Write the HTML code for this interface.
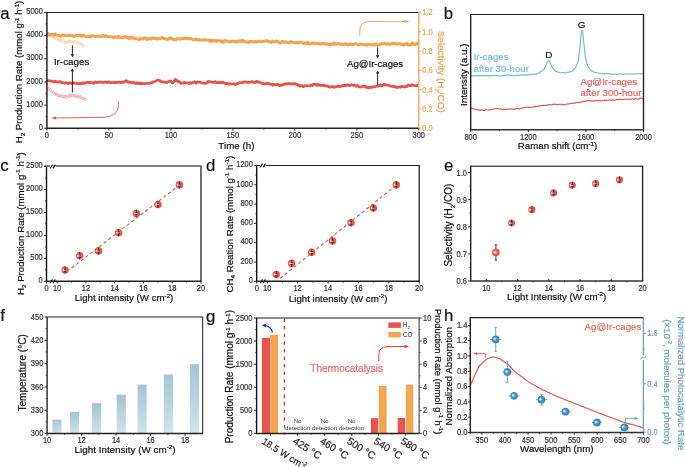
<!DOCTYPE html>
<html><head><meta charset="utf-8"><style>
html,body{margin:0;padding:0;background:#fff;width:685px;height:467px;overflow:hidden}
svg{display:block;will-change:transform}
svg text{font-family:"Liberation Sans", sans-serif;stroke-width:0.2px}
</style></head><body>
<svg width="685" height="467" viewBox="0 0 685 467">
<rect width="685" height="467" fill="#fff"/>
<defs>
<radialGradient id="gR" cx="0.5" cy="0.5" r="0.5" fx="0.32" fy="0.4">
<stop offset="0" stop-color="#f7a8a1"/><stop offset="0.5" stop-color="#ec6359"/><stop offset="0.85" stop-color="#e5534a"/><stop offset="1" stop-color="#ec7068"/>
</radialGradient>
<radialGradient id="gBl" cx="0.5" cy="0.5" r="0.5" fx="0.32" fy="0.4">
<stop offset="0" stop-color="#ffffff"/><stop offset="0.22" stop-color="#a9cfe3"/><stop offset="0.5" stop-color="#4f95bf"/><stop offset="0.85" stop-color="#3d84b0"/><stop offset="1" stop-color="#5b9cc2"/>
</radialGradient>
<linearGradient id="gB" x1="0" y1="0" x2="0" y2="1">
<stop offset="0" stop-color="#a3c4d4"/><stop offset="1" stop-color="#d0e3ea"/>
</linearGradient>
</defs>
<polyline points="47.00,33.91 47.50,33.96 48.00,33.67 48.50,33.75 49.00,34.17 49.50,34.58 50.00,34.96 50.50,34.82 51.00,34.88 51.50,34.74 52.00,34.33 52.50,34.49 53.00,34.62 53.50,35.22 54.00,34.63 54.50,34.12 55.00,33.82 55.50,34.17 56.00,34.74 56.50,35.00 57.00,35.30 57.50,35.11 58.00,35.25 58.50,35.27 59.00,35.31 59.50,35.71 60.00,35.80 60.50,36.28 61.00,35.70 61.50,35.39 62.00,35.01 62.50,35.15 63.00,35.51 63.50,35.66 64.00,35.59 64.50,35.20 65.00,35.02 65.50,35.45 66.00,35.49 66.50,35.69 67.00,35.51 67.50,35.35 68.00,35.31 68.50,35.54 69.00,35.42 69.50,35.33 70.00,34.99 70.50,35.30 71.00,35.51 71.50,35.53 72.00,35.38 72.50,35.48 73.00,35.67 73.50,36.28 74.00,36.44 74.50,36.38 75.00,36.18 75.50,35.51 76.00,35.59 76.50,35.43 77.00,35.65 77.50,35.20 78.00,35.13 78.50,35.13 79.00,35.78 79.50,35.53 80.00,35.32 80.50,35.07 81.00,35.96 81.50,36.48 82.00,35.96 82.50,34.99 83.00,34.95 83.50,35.26 84.00,35.63 84.50,35.80 85.00,36.27 85.50,36.61 86.00,36.44 86.50,36.29 87.00,36.67 87.50,36.78 88.00,36.82 88.50,36.57 89.00,36.04 89.50,36.25 90.00,36.37 90.50,36.88 91.00,36.06 91.50,35.66 92.00,35.73 92.50,35.77 93.00,35.87 93.50,35.91 94.00,36.03 94.50,36.47 95.00,36.35 95.50,36.63 96.00,36.30 96.50,36.32 97.00,36.38 97.50,36.58 98.00,36.24 98.50,36.10 99.00,36.07 99.50,36.24 100.00,36.11 100.50,36.08 101.00,36.44 101.50,36.54 102.00,35.95 102.50,35.54 103.00,35.61 103.50,35.87 104.00,36.25 104.50,36.03 105.00,36.41 105.50,35.79 106.00,35.90 106.50,35.79 107.00,36.44 107.50,36.90 108.00,36.88 108.50,36.69 109.00,36.56 109.50,36.67 110.00,36.64 110.50,36.72 111.00,36.77 111.50,36.86 112.00,37.03 112.50,37.08 113.00,37.64 113.50,37.58 114.00,37.38 114.50,36.83 115.00,36.80 115.50,37.15 116.00,37.17 116.50,37.29 117.00,37.53 117.50,36.99 118.00,36.63 118.50,36.24 119.00,37.00 119.50,37.36 120.00,37.20 120.50,37.28 121.00,37.31 121.50,37.30 122.00,37.76 122.50,37.79 123.00,37.80 123.50,37.18 124.00,37.05 124.50,37.19 125.00,36.55 125.50,36.54 126.00,36.86 126.50,37.30 127.00,37.46 127.50,37.50 128.00,38.07 128.50,38.51 129.00,37.90 129.50,37.65 130.00,37.25 130.50,37.89 131.00,38.30 131.50,37.77 132.00,37.94 132.50,37.36 133.00,38.26 133.50,37.67 134.00,38.13 134.50,38.31 135.00,38.71 135.50,38.73 136.00,38.66 136.50,38.76 137.00,38.71 137.50,38.92 138.00,39.17 138.50,39.15 139.00,39.47 139.50,38.95 140.00,39.28 140.50,38.55 141.00,38.90 141.50,38.87 142.00,39.01 142.50,39.17 143.00,38.63 143.50,38.23 144.00,38.24 144.50,38.41 145.00,38.56 145.50,38.00 146.00,38.51 146.50,38.92 147.00,39.61 147.50,39.02 148.00,38.79 148.50,38.10 149.00,38.49 149.50,38.84 150.00,38.87 150.50,39.02 151.00,38.83 151.50,38.97 152.00,38.05 152.50,38.11 153.00,38.09 153.50,38.40 154.00,38.11 154.50,38.19 155.00,38.68 155.50,38.34 156.00,38.53 156.50,38.55 157.00,39.18 157.50,38.86 158.00,38.32 158.50,38.23 159.00,38.32 159.50,38.55 160.00,38.67 160.50,38.59 161.00,38.00 161.50,37.56 162.00,37.18 162.50,37.97 163.00,38.16 163.50,38.49 164.00,38.29 164.50,38.44 165.00,38.63 165.50,39.01 166.00,38.84 166.50,39.13 167.00,39.22 167.50,39.69 168.00,39.31 168.50,39.20 169.00,38.38 169.50,38.33 170.00,37.67 170.50,38.46 171.00,38.47 171.50,39.01 172.00,38.74 172.50,39.09 173.00,39.00 173.50,39.15 174.00,39.66 174.50,39.87 175.00,39.99 175.50,39.73 176.00,39.61 176.50,39.11 177.00,38.66 177.50,38.91 178.00,38.76 178.50,38.69 179.00,38.61 179.50,39.16 180.00,39.25 180.50,39.21 181.00,39.06 181.50,38.78 182.00,38.20 182.50,38.00 183.00,38.54 183.50,38.80 184.00,38.74 184.50,38.33 185.00,38.10 185.50,38.30 186.00,38.21 186.50,38.70 187.00,38.15 187.50,38.53 188.00,38.29 188.50,38.41 189.00,38.52 189.50,38.62 190.00,38.55 190.50,38.18 191.00,38.35 191.50,38.81 192.00,39.25 192.50,39.39 193.00,39.70 193.50,39.61 194.00,39.78 194.50,39.81 195.00,39.86 195.50,39.03 196.00,39.12 196.50,39.36 197.00,39.83 197.50,39.51 198.00,39.69 198.50,39.35 199.00,39.61 199.50,39.76 200.00,39.99 200.50,40.09 201.00,39.99 201.50,40.23 202.00,40.24 202.50,40.04 203.00,39.88 203.50,39.76 204.00,39.64 204.50,40.12 205.00,40.17 205.50,40.09 206.00,39.67 206.50,39.63 207.00,39.94 207.50,40.26 208.00,40.18 208.50,39.78 209.00,40.46 209.50,41.00 210.00,41.41 210.50,40.13 211.00,40.04 211.50,40.03 212.00,41.14 212.50,41.12 213.00,41.02 213.50,40.77 214.00,40.21 214.50,40.52 215.00,40.50 215.50,40.85 216.00,40.96 216.50,41.36 217.00,41.22 217.50,40.76 218.00,40.42 218.50,40.85 219.00,40.95 219.50,40.67 220.00,41.19 220.50,41.57 221.00,41.53 221.50,40.68 222.00,40.87 222.50,41.44 223.00,42.25 223.50,42.05 224.00,41.60 224.50,41.23 225.00,40.51 225.50,40.56 226.00,40.50 226.50,41.19 227.00,41.21 227.50,41.22 228.00,41.22 228.50,41.52 229.00,41.73 229.50,41.69 230.00,41.53 230.50,41.57 231.00,41.54 231.50,41.41 232.00,41.06 232.50,41.05 233.00,41.24 233.50,41.44 234.00,41.44 234.50,41.51 235.00,41.44 235.50,41.13 236.00,41.20 236.50,41.50 237.00,41.92 237.50,41.77 238.00,41.63 238.50,41.28 239.00,40.86 239.50,40.76 240.00,40.77 240.50,41.44 241.00,41.15 241.50,40.73 242.00,40.29 242.50,40.96 243.00,41.53 243.50,41.45 244.00,40.86 244.50,41.09 245.00,41.56 245.50,41.79 246.00,42.01 246.50,42.05 247.00,41.99 247.50,41.75 248.00,41.98 248.50,42.21 249.00,42.31 249.50,41.61 250.00,41.31 250.50,41.23 251.00,41.41 251.50,41.70 252.00,41.66 252.50,41.94 253.00,41.61 253.50,42.08 254.00,42.15 254.50,42.14 255.00,41.51 255.50,41.84 256.00,41.79 256.50,41.97 257.00,41.56 257.50,41.63 258.00,41.11 258.50,40.90 259.00,40.97 259.50,41.53 260.00,41.67 260.50,41.61 261.00,41.58 261.50,41.54 262.00,41.62 262.50,41.45 263.00,41.28 263.50,41.43 264.00,41.19 264.50,41.12 265.00,40.98 265.50,40.91 266.00,40.99 266.50,40.51 267.00,40.74 267.50,41.02 268.00,41.69 268.50,41.88 269.00,41.71 269.50,41.24 270.00,41.74 270.50,41.96 271.00,42.62 271.50,41.97 272.00,41.83 272.50,41.13 273.00,41.57 273.50,41.88 274.00,41.89 274.50,41.72 275.00,41.67 275.50,41.72 276.00,41.30 276.50,40.90 277.00,41.20 277.50,41.33 278.00,41.62 278.50,41.86 279.00,42.39 279.50,42.58 280.00,42.91 280.50,43.06 281.00,42.58 281.50,42.10 282.00,41.56 282.50,41.64 283.00,41.77 283.50,42.05 284.00,42.46 284.50,42.11 285.00,41.82 285.50,41.71 286.00,42.07 286.50,42.33 287.00,42.34 287.50,42.22 288.00,42.49 288.50,42.61 289.00,42.80 289.50,42.48 290.00,42.37 290.50,41.72 291.00,41.66 291.50,41.72 292.00,42.04 292.50,42.35 293.00,42.39 293.50,42.44 294.00,42.34 294.50,42.23 295.00,42.71 295.50,42.94 296.00,43.02 296.50,42.70 297.00,42.53 297.50,42.53 298.00,42.94 298.50,43.07 299.00,42.92 299.50,42.41 300.00,42.25 300.50,42.26 301.00,42.34 301.50,42.41 302.00,42.49 302.50,42.81 303.00,42.98 303.50,43.01 304.00,43.58 304.50,43.38 305.00,43.78 305.50,43.23 306.00,43.60 306.50,42.74 307.00,42.53 307.50,42.32 308.00,43.07 308.50,43.85 309.00,43.88 309.50,44.05 310.00,43.67 310.50,43.83 311.00,43.65 311.50,43.43 312.00,43.32 312.50,42.93 313.00,43.28 313.50,42.90 314.00,43.24 314.50,43.48 315.00,43.69 315.50,43.64 316.00,43.41 316.50,43.48 317.00,43.28 317.50,43.06 318.00,43.21 318.50,43.62 319.00,43.40 319.50,43.72 320.00,44.00 320.50,44.23 321.00,43.89 321.50,43.40 322.00,43.78 322.50,43.57 323.00,43.88 323.50,43.44 324.00,43.48 324.50,43.52 325.00,44.01 325.50,44.21 326.00,43.89 326.50,43.80 327.00,43.82 327.50,44.10 328.00,44.31 328.50,44.64 329.00,44.47 329.50,44.69 330.00,44.44 330.50,44.78 331.00,44.06 331.50,44.05 332.00,43.43 332.50,44.05 333.00,44.41 333.50,44.55 334.00,43.74 334.50,43.00 335.00,43.61 335.50,43.88 336.00,44.28 336.50,43.92 337.00,44.02 337.50,43.77 338.00,43.86 338.50,43.54 339.00,43.81 339.50,43.89 340.00,44.38 340.50,44.35 341.00,44.05 341.50,43.99 342.00,43.93 342.50,44.56 343.00,44.72 343.50,44.82 344.00,44.33 344.50,43.97 345.00,43.77 345.50,43.80 346.00,44.05 346.50,44.41 347.00,44.64 347.50,45.10 348.00,44.79 348.50,44.65 349.00,44.83 349.50,44.54 350.00,44.40 350.50,43.75 351.00,44.25 351.50,44.48 352.00,44.38 352.50,44.43 353.00,44.35 353.50,44.60 354.00,44.03 354.50,43.80 355.00,43.61 355.50,43.82 356.00,43.78 356.50,43.94 357.00,44.03 357.50,44.45 358.00,44.48 358.50,44.72 359.00,44.69 359.50,44.48 360.00,44.05 360.50,43.93 361.00,44.09 361.50,44.33 362.00,44.34 362.50,44.43 363.00,44.36 363.50,44.57 364.00,44.87 364.50,44.97 365.00,44.86 365.50,44.38 366.00,44.92 366.50,44.99 367.00,45.27 367.50,44.73 368.00,44.67 368.50,44.46 369.00,44.21 369.50,44.59 370.00,44.84 370.50,44.87 371.00,44.71 371.50,44.48 372.00,45.05 372.50,44.97 373.00,44.65 373.50,44.50 374.00,44.81 374.50,45.06 375.00,44.87 375.50,44.10 376.00,43.88 376.50,44.16 377.00,44.86 377.50,45.21 378.00,45.13 378.50,45.21 379.00,44.91 379.50,44.62 380.00,44.13 380.50,44.34 381.00,44.20 381.50,43.71 382.00,43.59 382.50,43.84 383.00,43.75 383.50,43.56 384.00,43.31 384.50,43.69 385.00,43.65 385.50,43.78 386.00,43.59 386.50,43.90 387.00,44.28 387.50,44.29 388.00,44.26 388.50,43.74 389.00,43.86 389.50,43.85 390.00,44.43 390.50,44.34 391.00,44.14 391.50,43.83 392.00,43.57 392.50,43.60 393.00,43.40 393.50,43.88 394.00,43.61 394.50,43.30 395.00,43.23 395.50,43.60 396.00,43.97 396.50,44.20 397.00,44.08 397.50,44.08 398.00,43.99 398.50,43.68 399.00,43.68 399.50,43.57 400.00,44.19 400.50,44.33 401.00,44.43 401.50,44.07 402.00,44.20 402.50,44.55 403.00,44.56 403.50,45.09 404.00,44.53 404.50,44.72 405.00,44.19 405.50,44.59 406.00,44.27 406.50,43.69 407.00,43.57 407.50,44.07 408.00,44.74 408.50,45.24 409.00,45.08 409.50,44.98 410.00,44.54 410.50,44.57 411.00,44.91 411.50,44.36 412.00,44.16 412.50,42.87 413.00,43.38 413.50,43.37 414.00,44.45 414.50,44.77 415.00,44.85 415.50,44.55 416.00,43.87 416.50,43.66 417.00,43.55 417.50,43.82 418.00,44.03 418.50,44.20" fill="none" stroke="#f4a24c" stroke-width="2.9" stroke-linejoin="round" />
<polyline points="47.00,80.65 47.50,80.72 48.00,80.74 48.50,80.68 49.00,80.55 49.50,80.77 50.00,80.97 50.50,81.07 51.00,81.07 51.50,81.11 52.00,81.06 52.50,81.23 53.00,81.30 53.50,81.86 54.00,81.65 54.50,81.62 55.00,81.20 55.50,81.41 56.00,81.51 56.50,81.82 57.00,81.76 57.50,81.83 58.00,82.08 58.50,82.00 59.00,82.03 59.50,81.53 60.00,81.58 60.50,81.78 61.00,82.54 61.50,82.61 62.00,82.51 62.50,82.62 63.00,82.69 63.50,82.92 64.00,83.00 64.50,83.13 65.00,83.29 65.50,82.85 66.00,82.91 66.50,82.69 67.00,82.89 67.50,83.11 68.00,83.64 68.50,83.52 69.00,83.21 69.50,82.87 70.00,82.82 70.50,83.07 71.00,83.12 71.50,83.31 72.00,83.36 72.50,82.97 73.00,83.21 73.50,82.83 74.00,83.03 74.50,82.81 75.00,83.07 75.50,83.36 76.00,83.47 76.50,83.45 77.00,83.37 77.50,83.65 78.00,83.71 78.50,83.65 79.00,83.56 79.50,83.59 80.00,83.24 80.50,83.47 81.00,83.84 81.50,83.68 82.00,83.16 82.50,82.78 83.00,83.35 83.50,83.47 84.00,83.31 84.50,82.89 85.00,82.76 85.50,83.00 86.00,82.97 86.50,82.72 87.00,82.49 87.50,82.30 88.00,82.44 88.50,82.33 89.00,82.79 89.50,82.68 90.00,82.57 90.50,82.38 91.00,82.49 91.50,82.52 92.00,82.58 92.50,82.72 93.00,83.07 93.50,83.39 94.00,83.06 94.50,82.72 95.00,81.86 95.50,82.37 96.00,82.28 96.50,82.74 97.00,82.43 97.50,82.28 98.00,82.35 98.50,82.21 99.00,82.08 99.50,82.02 100.00,82.23 100.50,82.19 101.00,82.27 101.50,82.04 102.00,82.48 102.50,82.38 103.00,82.56 103.50,82.39 104.00,82.45 104.50,82.08 105.00,82.24 105.50,81.93 106.00,82.02 106.50,82.25 107.00,82.53 107.50,82.55 108.00,82.01 108.50,81.79 109.00,81.89 109.50,82.34 110.00,82.61 110.50,82.71 111.00,82.54 111.50,82.76 112.00,82.60 112.50,82.53 113.00,82.47 113.50,82.59 114.00,82.67 114.50,82.41 115.00,82.38 115.50,82.52 116.00,82.67 116.50,82.44 117.00,82.36 117.50,82.29 118.00,82.30 118.50,82.33 119.00,82.20 119.50,82.29 120.00,82.26 120.50,82.54 121.00,82.44 121.50,82.33 122.00,81.85 122.50,82.41 123.00,82.19 123.50,82.42 124.00,81.64 124.50,81.72 125.00,81.74 125.50,81.18 126.00,80.75 126.50,80.62 127.00,81.33 127.50,81.50 128.00,82.04 128.50,82.30 129.00,82.32 129.50,82.12 130.00,81.83 130.50,82.46 131.00,82.24 131.50,82.68 132.00,82.77 132.50,82.97 133.00,82.73 133.50,82.21 134.00,82.49 134.50,82.98 135.00,83.22 135.50,83.19 136.00,83.17 136.50,83.49 137.00,82.90 137.50,82.77 138.00,82.85 138.50,83.48 139.00,83.74 139.50,83.10 140.00,83.02 140.50,82.97 141.00,84.00 141.50,83.81 142.00,83.67 142.50,83.20 143.00,83.60 143.50,83.61 144.00,83.86 144.50,83.55 145.00,83.73 145.50,83.35 146.00,83.50 146.50,83.27 147.00,83.01 147.50,83.16 148.00,83.32 148.50,83.49 149.00,83.27 149.50,83.37 150.00,83.24 150.50,83.01 151.00,82.74 151.50,82.87 152.00,82.65 152.50,81.94 153.00,81.91 153.50,81.87 154.00,82.12 154.50,81.64 155.00,81.45 155.50,81.19 156.00,80.86 156.50,80.49 157.00,80.28 157.50,80.19 158.00,79.93 158.50,80.34 159.00,80.36 159.50,80.89 160.00,80.72 160.50,81.22 161.00,81.53 161.50,81.94 162.00,81.88 162.50,81.78 163.00,81.94 163.50,81.90 164.00,81.93 164.50,82.10 165.00,82.52 165.50,82.49 166.00,82.45 166.50,82.54 167.00,82.54 167.50,82.35 168.00,81.98 168.50,81.64 169.00,81.30 169.50,81.14 170.00,80.95 170.50,81.08 171.00,81.49 171.50,81.94 172.00,82.51 172.50,83.00 173.00,82.46 173.50,81.99 174.00,81.77 174.50,80.50 175.00,79.85 175.50,79.27 176.00,80.19 176.50,80.96 177.00,81.03 177.50,81.06 178.00,80.83 178.50,81.60 179.00,82.02 179.50,81.80 180.00,82.37 180.50,82.66 181.00,83.45 181.50,83.14 182.00,83.17 182.50,83.05 183.00,83.19 183.50,82.93 184.00,82.56 184.50,82.49 185.00,82.61 185.50,83.19 186.00,82.99 186.50,82.92 187.00,82.87 187.50,83.06 188.00,83.29 188.50,83.54 189.00,83.31 189.50,82.65 190.00,82.41 190.50,82.85 191.00,83.38 191.50,83.33 192.00,82.86 192.50,82.50 193.00,82.47 193.50,82.37 194.00,82.11 194.50,81.70 195.00,82.34 195.50,83.04 196.00,83.07 196.50,82.38 197.00,82.00 197.50,81.95 198.00,82.32 198.50,82.22 199.00,82.11 199.50,82.07 200.00,81.93 200.50,82.46 201.00,82.48 201.50,82.80 202.00,83.10 202.50,83.24 203.00,83.21 203.50,82.98 204.00,83.14 204.50,83.11 205.00,83.31 205.50,83.33 206.00,83.36 206.50,83.15 207.00,82.74 207.50,82.24 208.00,81.56 208.50,81.44 209.00,81.44 209.50,81.99 210.00,82.02 210.50,81.91 211.00,82.02 211.50,82.07 212.00,82.27 212.50,82.23 213.00,82.29 213.50,82.42 214.00,82.22 214.50,82.12 215.00,81.72 215.50,81.70 216.00,82.11 216.50,82.64 217.00,82.83 217.50,82.66 218.00,82.56 218.50,82.74 219.00,82.89 219.50,82.43 220.00,82.16 220.50,82.08 221.00,82.69 221.50,82.91 222.00,82.72 222.50,82.43 223.00,82.35 223.50,82.42 224.00,82.86 224.50,82.93 225.00,83.18 225.50,83.37 226.00,83.79 226.50,83.92 227.00,83.42 227.50,83.33 228.00,83.64 228.50,83.95 229.00,84.18 229.50,83.94 230.00,83.98 230.50,83.74 231.00,83.87 231.50,84.09 232.00,83.90 232.50,83.86 233.00,83.71 233.50,83.94 234.00,83.95 234.50,84.12 235.00,84.70 235.50,84.74 236.00,84.51 236.50,83.66 237.00,83.78 237.50,83.59 238.00,83.75 238.50,83.00 239.00,82.84 239.50,82.49 240.00,82.58 240.50,82.65 241.00,82.83 241.50,82.84 242.00,82.53 242.50,82.77 243.00,82.54 243.50,82.31 244.00,81.95 244.50,81.89 245.00,82.01 245.50,81.93 246.00,82.11 246.50,82.03 247.00,82.03 247.50,82.22 248.00,82.55 248.50,82.51 249.00,82.21 249.50,82.01 250.00,81.99 250.50,82.15 251.00,82.19 251.50,81.75 252.00,81.64 252.50,81.51 253.00,82.16 253.50,82.08 254.00,82.32 254.50,82.66 255.00,82.61 255.50,82.39 256.00,81.70 256.50,81.47 257.00,81.35 257.50,81.74 258.00,82.13 258.50,82.17 259.00,81.83 259.50,82.12 260.00,82.37 260.50,82.66 261.00,82.67 261.50,83.16 262.00,83.69 262.50,83.89 263.00,83.71 263.50,83.43 264.00,83.65 264.50,83.97 265.00,83.93 265.50,83.73 266.00,83.57 266.50,83.70 267.00,83.58 267.50,83.32 268.00,83.27 268.50,83.12 269.00,83.70 269.50,83.98 270.00,84.11 270.50,84.20 271.00,84.32 271.50,84.23 272.00,84.36 272.50,84.40 273.00,85.24 273.50,84.68 274.00,84.67 274.50,84.39 275.00,84.73 275.50,84.77 276.00,85.01 276.50,84.78 277.00,84.60 277.50,84.22 278.00,84.52 278.50,84.76 279.00,85.22 279.50,85.50 280.00,85.73 280.50,85.32 281.00,84.98 281.50,84.97 282.00,85.05 282.50,84.96 283.00,84.51 283.50,84.47 284.00,84.13 284.50,84.12 285.00,83.84 285.50,83.93 286.00,83.98 286.50,83.55 287.00,83.82 287.50,83.72 288.00,83.65 288.50,83.60 289.00,83.40 289.50,83.99 290.00,83.74 290.50,83.91 291.00,83.73 291.50,83.82 292.00,83.92 292.50,83.77 293.00,84.00 293.50,83.96 294.00,84.14 294.50,83.47 295.00,83.72 295.50,83.83 296.00,84.16 296.50,84.09 297.00,84.32 297.50,85.03 298.00,84.93 298.50,85.29 299.00,85.18 299.50,86.02 300.00,85.82 300.50,86.07 301.00,85.59 301.50,85.48 302.00,85.64 302.50,85.98 303.00,86.59 303.50,86.62 304.00,86.40 304.50,85.84 305.00,85.62 305.50,85.53 306.00,85.63 306.50,85.81 307.00,85.94 307.50,85.98 308.00,85.83 308.50,85.66 309.00,85.69 309.50,85.73 310.00,85.88 310.50,85.60 311.00,85.03 311.50,85.02 312.00,85.07 312.50,85.48 313.00,84.76 313.50,84.56 314.00,84.23 314.50,84.16 315.00,84.01 315.50,84.22 316.00,84.79 316.50,85.27 317.00,85.02 317.50,84.59 318.00,84.44 318.50,84.87 319.00,85.25 319.50,84.95 320.00,84.98 320.50,85.17 321.00,85.61 321.50,85.42 322.00,85.38 322.50,85.50 323.00,85.55 323.50,85.18 324.00,85.16 324.50,85.43 325.00,85.86 325.50,86.04 326.00,85.88 326.50,85.92 327.00,85.75 327.50,86.04 328.00,86.43 328.50,86.50 329.00,86.86 329.50,86.91 330.00,87.17 330.50,86.94 331.00,87.05 331.50,86.92 332.00,86.84 332.50,86.33 333.00,86.52 333.50,86.87 334.00,87.25 334.50,87.30 335.00,87.05 335.50,86.92 336.00,86.50 336.50,86.69 337.00,86.52 337.50,86.53 338.00,86.12 338.50,85.98 339.00,86.32 339.50,86.62 340.00,86.46 340.50,86.42 341.00,86.33 341.50,86.43 342.00,85.89 342.50,85.51 343.00,85.45 343.50,85.76 344.00,85.78 344.50,85.45 345.00,85.37 345.50,85.06 346.00,85.58 346.50,85.22 347.00,85.32 347.50,84.90 348.00,84.96 348.50,85.29 349.00,85.56 349.50,85.72 350.00,85.45 350.50,85.04 351.00,84.89 351.50,84.79 352.00,84.97 352.50,85.25 353.00,85.28 353.50,85.40 354.00,85.16 354.50,84.97 355.00,85.30 355.50,85.84 356.00,86.36 356.50,86.12 357.00,85.38 357.50,85.45 358.00,85.96 358.50,86.63 359.00,86.85 359.50,86.97 360.00,87.21 360.50,86.96 361.00,86.91 361.50,86.86 362.00,86.67 362.50,86.41 363.00,86.00 363.50,86.32 364.00,86.54 364.50,86.64 365.00,86.28 365.50,86.46 366.00,86.77 366.50,87.51 367.00,87.01 367.50,87.18 368.00,87.33 368.50,88.02 369.00,87.80 369.50,87.47 370.00,87.06 370.50,87.34 371.00,87.52 371.50,87.60 372.00,87.15 372.50,86.95 373.00,86.70 373.50,86.96 374.00,86.72 374.50,86.99 375.00,86.95 375.50,86.67 376.00,86.27 376.50,86.26 377.00,86.10 377.50,85.97 378.00,85.72 378.50,86.02 379.00,85.98 379.50,85.42 380.00,84.86 380.50,84.75 381.00,85.03 381.50,85.74 382.00,85.46 382.50,85.55 383.00,85.14 383.50,84.92 384.00,84.47 384.50,84.29 385.00,84.47 385.50,84.71 386.00,84.87 386.50,84.92 387.00,85.15 387.50,85.03 388.00,85.19 388.50,85.31 389.00,85.42 389.50,85.70 390.00,86.01 390.50,86.24 391.00,86.26 391.50,86.19 392.00,86.21 392.50,86.57 393.00,86.27 393.50,86.57 394.00,86.35 394.50,86.56 395.00,86.89 395.50,86.81 396.00,87.31 396.50,87.07 397.00,87.51 397.50,86.95 398.00,87.05 398.50,87.03 399.00,87.19 399.50,86.91 400.00,87.09 400.50,87.14 401.00,87.06 401.50,86.43 402.00,86.47 402.50,86.60 403.00,86.75 403.50,86.99 404.00,86.84 404.50,86.89 405.00,86.82 405.50,86.61 406.00,86.66 406.50,86.66 407.00,86.52 407.50,86.02 408.00,85.37 408.50,85.20 409.00,85.44 409.50,85.21 410.00,85.60 410.50,85.73 411.00,85.71 411.50,85.48 412.00,84.73 412.50,85.23 413.00,85.17 413.50,85.52 414.00,85.40 414.50,85.67 415.00,85.68 415.50,85.69 416.00,85.50 416.50,85.61 417.00,85.39 417.50,85.54 418.00,85.15 418.50,85.31" fill="none" stroke="#e5534b" stroke-width="2.7" stroke-linejoin="round" />
<circle cx="47.60" cy="35.07" r="1.3" fill="none" stroke="#f4a24c" stroke-width="0.55" opacity="0.55"/>
<circle cx="49.05" cy="35.02" r="1.3" fill="none" stroke="#f4a24c" stroke-width="0.55" opacity="0.55"/>
<circle cx="50.50" cy="35.17" r="1.3" fill="none" stroke="#f4a24c" stroke-width="0.55" opacity="0.55"/>
<circle cx="51.95" cy="36.49" r="1.3" fill="none" stroke="#f4a24c" stroke-width="0.55" opacity="0.55"/>
<circle cx="53.40" cy="36.79" r="1.3" fill="none" stroke="#f4a24c" stroke-width="0.55" opacity="0.55"/>
<circle cx="54.85" cy="37.31" r="1.3" fill="none" stroke="#f4a24c" stroke-width="0.55" opacity="0.55"/>
<circle cx="56.30" cy="38.47" r="1.3" fill="none" stroke="#f4a24c" stroke-width="0.55" opacity="0.55"/>
<circle cx="57.75" cy="39.85" r="1.3" fill="none" stroke="#f4a24c" stroke-width="0.55" opacity="0.55"/>
<circle cx="59.20" cy="40.27" r="1.3" fill="none" stroke="#f4a24c" stroke-width="0.55" opacity="0.55"/>
<circle cx="60.65" cy="40.54" r="1.3" fill="none" stroke="#f4a24c" stroke-width="0.55" opacity="0.55"/>
<circle cx="62.10" cy="40.67" r="1.3" fill="none" stroke="#f4a24c" stroke-width="0.55" opacity="0.55"/>
<circle cx="63.55" cy="41.07" r="1.3" fill="none" stroke="#f4a24c" stroke-width="0.55" opacity="0.55"/>
<circle cx="65.00" cy="42.50" r="1.3" fill="none" stroke="#f4a24c" stroke-width="0.55" opacity="0.55"/>
<circle cx="66.45" cy="42.52" r="1.3" fill="none" stroke="#f4a24c" stroke-width="0.55" opacity="0.55"/>
<circle cx="67.90" cy="41.95" r="1.3" fill="none" stroke="#f4a24c" stroke-width="0.55" opacity="0.55"/>
<circle cx="69.35" cy="41.29" r="1.3" fill="none" stroke="#f4a24c" stroke-width="0.55" opacity="0.55"/>
<circle cx="70.80" cy="41.39" r="1.3" fill="none" stroke="#f4a24c" stroke-width="0.55" opacity="0.55"/>
<circle cx="72.25" cy="42.73" r="1.3" fill="none" stroke="#f4a24c" stroke-width="0.55" opacity="0.55"/>
<circle cx="73.70" cy="41.08" r="1.3" fill="none" stroke="#f4a24c" stroke-width="0.55" opacity="0.55"/>
<circle cx="75.15" cy="41.92" r="1.3" fill="none" stroke="#f4a24c" stroke-width="0.55" opacity="0.55"/>
<circle cx="76.60" cy="42.60" r="1.3" fill="none" stroke="#f4a24c" stroke-width="0.55" opacity="0.55"/>
<circle cx="78.05" cy="43.02" r="1.3" fill="none" stroke="#f4a24c" stroke-width="0.55" opacity="0.55"/>
<circle cx="79.50" cy="43.53" r="1.3" fill="none" stroke="#f4a24c" stroke-width="0.55" opacity="0.55"/>
<circle cx="80.95" cy="43.78" r="1.3" fill="none" stroke="#f4a24c" stroke-width="0.55" opacity="0.55"/>
<circle cx="82.40" cy="44.63" r="1.3" fill="none" stroke="#f4a24c" stroke-width="0.55" opacity="0.55"/>
<circle cx="83.85" cy="46.45" r="1.3" fill="none" stroke="#f4a24c" stroke-width="0.55" opacity="0.55"/>
<circle cx="47.60" cy="86.90" r="1.3" fill="none" stroke="#e5534b" stroke-width="0.55" opacity="0.55"/>
<circle cx="49.05" cy="89.21" r="1.3" fill="none" stroke="#e5534b" stroke-width="0.55" opacity="0.55"/>
<circle cx="50.50" cy="89.86" r="1.3" fill="none" stroke="#e5534b" stroke-width="0.55" opacity="0.55"/>
<circle cx="51.95" cy="91.89" r="1.3" fill="none" stroke="#e5534b" stroke-width="0.55" opacity="0.55"/>
<circle cx="53.40" cy="92.91" r="1.3" fill="none" stroke="#e5534b" stroke-width="0.55" opacity="0.55"/>
<circle cx="54.85" cy="94.04" r="1.3" fill="none" stroke="#e5534b" stroke-width="0.55" opacity="0.55"/>
<circle cx="56.30" cy="93.99" r="1.3" fill="none" stroke="#e5534b" stroke-width="0.55" opacity="0.55"/>
<circle cx="57.75" cy="95.49" r="1.3" fill="none" stroke="#e5534b" stroke-width="0.55" opacity="0.55"/>
<circle cx="59.20" cy="95.88" r="1.3" fill="none" stroke="#e5534b" stroke-width="0.55" opacity="0.55"/>
<circle cx="60.65" cy="95.75" r="1.3" fill="none" stroke="#e5534b" stroke-width="0.55" opacity="0.55"/>
<circle cx="62.10" cy="96.56" r="1.3" fill="none" stroke="#e5534b" stroke-width="0.55" opacity="0.55"/>
<circle cx="63.55" cy="96.34" r="1.3" fill="none" stroke="#e5534b" stroke-width="0.55" opacity="0.55"/>
<circle cx="65.00" cy="96.70" r="1.3" fill="none" stroke="#e5534b" stroke-width="0.55" opacity="0.55"/>
<circle cx="66.45" cy="97.34" r="1.3" fill="none" stroke="#e5534b" stroke-width="0.55" opacity="0.55"/>
<circle cx="67.90" cy="95.73" r="1.3" fill="none" stroke="#e5534b" stroke-width="0.55" opacity="0.55"/>
<circle cx="69.35" cy="96.07" r="1.3" fill="none" stroke="#e5534b" stroke-width="0.55" opacity="0.55"/>
<circle cx="70.80" cy="95.40" r="1.3" fill="none" stroke="#e5534b" stroke-width="0.55" opacity="0.55"/>
<circle cx="72.25" cy="95.21" r="1.3" fill="none" stroke="#e5534b" stroke-width="0.55" opacity="0.55"/>
<circle cx="73.70" cy="95.63" r="1.3" fill="none" stroke="#e5534b" stroke-width="0.55" opacity="0.55"/>
<circle cx="75.15" cy="96.11" r="1.3" fill="none" stroke="#e5534b" stroke-width="0.55" opacity="0.55"/>
<circle cx="76.60" cy="96.01" r="1.3" fill="none" stroke="#e5534b" stroke-width="0.55" opacity="0.55"/>
<circle cx="78.05" cy="97.08" r="1.3" fill="none" stroke="#e5534b" stroke-width="0.55" opacity="0.55"/>
<circle cx="79.50" cy="96.52" r="1.3" fill="none" stroke="#e5534b" stroke-width="0.55" opacity="0.55"/>
<circle cx="80.95" cy="96.95" r="1.3" fill="none" stroke="#e5534b" stroke-width="0.55" opacity="0.55"/>
<circle cx="82.40" cy="98.61" r="1.3" fill="none" stroke="#e5534b" stroke-width="0.55" opacity="0.55"/>
<circle cx="83.85" cy="98.66" r="1.3" fill="none" stroke="#e5534b" stroke-width="0.55" opacity="0.55"/>
<circle cx="85.30" cy="99.39" r="1.3" fill="none" stroke="#e5534b" stroke-width="0.55" opacity="0.55"/>
<line x1="46.20" y1="12.45" x2="418.80" y2="12.45" stroke="#222" stroke-width="1.1" />
<line x1="46.90" y1="12.45" x2="46.90" y2="128.30" stroke="#222" stroke-width="1.5" />
<line x1="46.20" y1="128.30" x2="418.80" y2="128.30" stroke="#222" stroke-width="1.5" />
<line x1="418.80" y1="11.95" x2="418.80" y2="129.00" stroke="#f4a24c" stroke-width="1.3" />
<line x1="44.30" y1="128.30" x2="46.90" y2="128.30" stroke="#222" stroke-width="1" />
<text transform="translate(42.90,130.00) scale(0.87,1)" font-size="8.6" text-anchor="end" fill="#333" stroke="#333">0</text>
<line x1="44.30" y1="105.13" x2="46.90" y2="105.13" stroke="#222" stroke-width="1" />
<text transform="translate(42.90,106.83) scale(0.87,1)" font-size="8.6" text-anchor="end" fill="#333" stroke="#333">1000</text>
<line x1="44.30" y1="81.96" x2="46.90" y2="81.96" stroke="#222" stroke-width="1" />
<text transform="translate(42.90,83.66) scale(0.87,1)" font-size="8.6" text-anchor="end" fill="#333" stroke="#333">2000</text>
<line x1="44.30" y1="58.79" x2="46.90" y2="58.79" stroke="#222" stroke-width="1" />
<text transform="translate(42.90,60.49) scale(0.87,1)" font-size="8.6" text-anchor="end" fill="#333" stroke="#333">3000</text>
<line x1="44.30" y1="35.62" x2="46.90" y2="35.62" stroke="#222" stroke-width="1" />
<text transform="translate(42.90,37.32) scale(0.87,1)" font-size="8.6" text-anchor="end" fill="#333" stroke="#333">4000</text>
<line x1="44.30" y1="12.45" x2="46.90" y2="12.45" stroke="#222" stroke-width="1" />
<text transform="translate(42.90,14.15) scale(0.87,1)" font-size="8.6" text-anchor="end" fill="#333" stroke="#333">5000</text>
<line x1="45.60" y1="116.72" x2="46.90" y2="116.72" stroke="#222" stroke-width="0.9" />
<line x1="45.60" y1="93.55" x2="46.90" y2="93.55" stroke="#222" stroke-width="0.9" />
<line x1="45.60" y1="70.38" x2="46.90" y2="70.38" stroke="#222" stroke-width="0.9" />
<line x1="45.60" y1="47.21" x2="46.90" y2="47.21" stroke="#222" stroke-width="0.9" />
<line x1="45.60" y1="24.03" x2="46.90" y2="24.03" stroke="#222" stroke-width="0.9" />
<line x1="46.90" y1="128.30" x2="46.90" y2="130.50" stroke="#222" stroke-width="1" />
<text transform="translate(46.90,137.70) scale(0.87,1)" font-size="8.6" text-anchor="middle" fill="#333" stroke="#333">0</text>
<line x1="108.88" y1="128.30" x2="108.88" y2="130.50" stroke="#222" stroke-width="1" />
<text transform="translate(108.88,137.70) scale(0.87,1)" font-size="8.6" text-anchor="middle" fill="#333" stroke="#333">50</text>
<line x1="170.87" y1="128.30" x2="170.87" y2="130.50" stroke="#222" stroke-width="1" />
<text transform="translate(170.87,137.70) scale(0.87,1)" font-size="8.6" text-anchor="middle" fill="#333" stroke="#333">100</text>
<line x1="232.85" y1="128.30" x2="232.85" y2="130.50" stroke="#222" stroke-width="1" />
<text transform="translate(232.85,137.70) scale(0.87,1)" font-size="8.6" text-anchor="middle" fill="#333" stroke="#333">150</text>
<line x1="294.83" y1="128.30" x2="294.83" y2="130.50" stroke="#222" stroke-width="1" />
<text transform="translate(294.83,137.70) scale(0.87,1)" font-size="8.6" text-anchor="middle" fill="#333" stroke="#333">200</text>
<line x1="356.82" y1="128.30" x2="356.82" y2="130.50" stroke="#222" stroke-width="1" />
<text transform="translate(356.82,137.70) scale(0.87,1)" font-size="8.6" text-anchor="middle" fill="#333" stroke="#333">250</text>
<line x1="418.80" y1="128.30" x2="418.80" y2="130.50" stroke="#222" stroke-width="1" />
<text transform="translate(418.80,137.70) scale(0.87,1)" font-size="8.6" text-anchor="middle" fill="#333" stroke="#333">300</text>
<line x1="77.89" y1="128.30" x2="77.89" y2="129.60" stroke="#222" stroke-width="0.9" />
<line x1="139.88" y1="128.30" x2="139.88" y2="129.60" stroke="#222" stroke-width="0.9" />
<line x1="201.86" y1="128.30" x2="201.86" y2="129.60" stroke="#222" stroke-width="0.9" />
<line x1="263.84" y1="128.30" x2="263.84" y2="129.60" stroke="#222" stroke-width="0.9" />
<line x1="325.82" y1="128.30" x2="325.82" y2="129.60" stroke="#222" stroke-width="0.9" />
<line x1="387.81" y1="128.30" x2="387.81" y2="129.60" stroke="#222" stroke-width="0.9" />
<line x1="418.80" y1="128.30" x2="421.20" y2="128.30" stroke="#f4a24c" stroke-width="1" />
<text transform="translate(422.30,131.20) scale(0.87,1)" font-size="8.6" text-anchor="start" fill="#f4a24c" stroke="#f4a24c">0.0</text>
<line x1="418.80" y1="108.99" x2="421.20" y2="108.99" stroke="#f4a24c" stroke-width="1" />
<text transform="translate(422.30,111.89) scale(0.87,1)" font-size="8.6" text-anchor="start" fill="#f4a24c" stroke="#f4a24c">0.2</text>
<line x1="418.80" y1="89.68" x2="421.20" y2="89.68" stroke="#f4a24c" stroke-width="1" />
<text transform="translate(422.30,92.58) scale(0.87,1)" font-size="8.6" text-anchor="start" fill="#f4a24c" stroke="#f4a24c">0.4</text>
<line x1="418.80" y1="70.38" x2="421.20" y2="70.38" stroke="#f4a24c" stroke-width="1" />
<text transform="translate(422.30,73.28) scale(0.87,1)" font-size="8.6" text-anchor="start" fill="#f4a24c" stroke="#f4a24c">0.6</text>
<line x1="418.80" y1="51.07" x2="421.20" y2="51.07" stroke="#f4a24c" stroke-width="1" />
<text transform="translate(422.30,53.97) scale(0.87,1)" font-size="8.6" text-anchor="start" fill="#f4a24c" stroke="#f4a24c">0.8</text>
<line x1="418.80" y1="31.76" x2="421.20" y2="31.76" stroke="#f4a24c" stroke-width="1" />
<text transform="translate(422.30,34.66) scale(0.87,1)" font-size="8.6" text-anchor="start" fill="#f4a24c" stroke="#f4a24c">1.0</text>
<line x1="418.80" y1="12.45" x2="421.20" y2="12.45" stroke="#f4a24c" stroke-width="1" />
<text transform="translate(422.30,15.35) scale(0.87,1)" font-size="8.6" text-anchor="start" fill="#f4a24c" stroke="#f4a24c">1.2</text>
<line x1="418.80" y1="118.65" x2="420.10" y2="118.65" stroke="#f4a24c" stroke-width="0.9" />
<line x1="418.80" y1="99.34" x2="420.10" y2="99.34" stroke="#f4a24c" stroke-width="0.9" />
<line x1="418.80" y1="80.03" x2="420.10" y2="80.03" stroke="#f4a24c" stroke-width="0.9" />
<line x1="418.80" y1="60.72" x2="420.10" y2="60.72" stroke="#f4a24c" stroke-width="0.9" />
<line x1="418.80" y1="41.41" x2="420.10" y2="41.41" stroke="#f4a24c" stroke-width="0.9" />
<line x1="418.80" y1="22.10" x2="420.10" y2="22.10" stroke="#f4a24c" stroke-width="0.9" />
<text x="236.40" y="148.90" font-size="9.8" text-anchor="middle" fill="#111" stroke="#111" >Time (h)</text>
<text transform="translate(22.2,143.3) rotate(-90)" font-size="9.7" fill="#111" stroke="#111">H<tspan dy="2.5" font-size="6.2">2</tspan><tspan dy="-2.5"> Production Rate (mmol g</tspan><tspan dy="-3.6" font-size="6.2">-1</tspan><tspan dy="3.6"> h</tspan><tspan dy="-3.6" font-size="6.2">-1</tspan><tspan dy="3.6">)</tspan></text>
<text transform="translate(437.6,30.8) rotate(90)" font-size="9.9" fill="#f4a24c" stroke="#f4a24c">Selectivity (H<tspan dy="2.5" font-size="6.2">2</tspan><tspan dy="-2.5">/CO)</tspan></text>
<text x="0.20" y="18.50" font-size="16.8" text-anchor="start" fill="#111" stroke="#111" >a</text>
<text x="53.90" y="64.50" font-size="9.8" text-anchor="start" fill="#111" stroke="#111" >Ir-cages</text>
<text x="347.00" y="66.50" font-size="9.6" text-anchor="start" fill="#111" stroke="#111" >Ag@Ir-cages</text>
<line x1="72.40" y1="45.30" x2="72.40" y2="55.40" stroke="#111" stroke-width="0.9" />
<path d="M70.80,54.20 L72.40,57.20 L74.00,54.20 Z" fill="#111"/>
<line x1="72.40" y1="92.50" x2="72.40" y2="70.00" stroke="#111" stroke-width="0.9" />
<path d="M70.80,71.20 L72.40,68.20 L74.00,71.20 Z" fill="#111"/>
<line x1="377.60" y1="47.40" x2="377.60" y2="56.40" stroke="#111" stroke-width="0.9" />
<path d="M376.00,55.20 L377.60,58.20 L379.20,55.20 Z" fill="#111"/>
<line x1="377.60" y1="84.50" x2="377.60" y2="72.30" stroke="#111" stroke-width="0.9" />
<path d="M376.00,73.50 L377.60,70.50 L379.20,73.50 Z" fill="#111"/>
<path d="M118.4,101.2 L118.4,106 Q118,116 104,117.3 L55,118" fill="none" stroke="#e5534b" stroke-width="0.9"/>
<path d="M51.3,118 L56.5,116.2 L55.6,118 L56.5,119.8 Z" fill="#e5534b"/>
<path d="M359.8,35.8 L359.8,30 Q360,21.6 369,21.5 L405,21.4" fill="none" stroke="#f4a24c" stroke-width="0.9"/>
<path d="M409.3,21.4 L404,19.6 L405,21.4 L404,23.2 Z" fill="#f4a24c"/>
<polyline points="470.70,75.97 471.20,76.14 471.70,76.04 472.20,76.15 472.70,75.99 473.20,75.87 473.70,75.55 474.20,75.75 474.70,75.77 475.20,75.81 475.70,75.56 476.20,75.59 476.70,75.56 477.20,75.63 477.70,75.60 478.20,75.68 478.70,75.59 479.20,75.66 479.70,75.67 480.20,75.79 480.70,75.80 481.20,75.89 481.70,75.62 482.20,75.52 482.70,75.38 483.20,75.72 483.70,75.59 484.20,75.59 484.70,75.46 485.20,75.60 485.70,75.79 486.20,75.77 486.70,75.91 487.20,75.62 487.70,75.45 488.20,75.47 488.70,75.69 489.20,75.95 489.70,75.81 490.20,75.81 490.70,75.61 491.20,75.70 491.70,75.57 492.20,75.82 492.70,75.71 493.20,75.54 493.70,75.26 494.20,75.38 494.70,75.59 495.20,75.68 495.70,75.57 496.20,75.53 496.70,75.51 497.20,75.48 497.70,75.54 498.20,75.77 498.70,75.76 499.20,75.95 499.70,75.98 500.20,76.17 500.70,76.06 501.20,75.86 501.70,75.67 502.20,75.52 502.70,75.41 503.20,75.38 503.70,75.31 504.20,75.58 504.70,75.64 505.20,75.66 505.70,75.23 506.20,75.15 506.70,75.15 507.20,75.24 507.70,75.10 508.20,74.88 508.70,75.06 509.20,75.18 509.70,75.73 510.20,75.65 510.70,75.63 511.20,75.49 511.70,75.50 512.20,75.53 512.70,75.30 513.20,75.21 513.70,75.35 514.20,75.50 514.70,75.76 515.20,75.53 515.70,75.41 516.20,75.09 516.70,75.24 517.20,75.06 517.70,75.21 518.20,75.22 518.70,75.53 519.20,75.34 519.70,75.33 520.20,75.06 520.70,75.07 521.20,74.77 521.70,74.98 522.20,75.24 522.70,75.31 523.20,75.07 523.70,74.82 524.20,75.16 524.70,75.35 525.20,75.30 525.70,74.78 526.20,74.56 526.70,74.74 527.20,75.15 527.70,75.17 528.20,74.92 528.70,74.62 529.20,74.40 529.70,74.55 530.20,74.45 530.70,74.76 531.20,74.42 531.70,74.36 532.20,74.22 532.70,74.29 533.20,74.48 533.70,74.39 534.20,74.29 534.70,74.20 535.20,74.23 535.70,74.07 536.20,74.13 536.70,74.00 537.20,74.21 537.70,73.66 538.20,73.40 538.70,73.12 539.20,73.31 539.70,73.04 540.20,71.87 540.70,71.28 541.20,71.16 541.70,70.99 542.20,70.67 542.70,70.21 543.20,69.73 543.70,69.53 544.20,68.99 544.70,68.09 545.20,66.83 545.70,65.59 546.20,64.38 546.70,63.32 547.20,62.24 547.70,61.53 548.20,60.91 548.70,60.63 549.20,60.96 549.70,61.81 550.20,63.02 550.70,63.94 551.20,64.80 551.70,65.78 552.20,66.96 552.70,67.95 553.20,68.65 553.70,69.19 554.20,69.84 554.70,70.51 555.20,70.94 555.70,71.39 556.20,71.49 556.70,71.76 557.20,71.67 557.70,72.02 558.20,72.07 558.70,72.33 559.20,72.46 559.70,72.52 560.20,72.69 560.70,72.74 561.20,72.80 561.70,72.64 562.20,72.48 562.70,72.42 563.20,72.47 563.70,72.55 564.20,72.96 564.70,73.04 565.20,73.11 565.70,72.62 566.20,72.43 566.70,72.25 567.20,72.31 567.70,72.20 568.20,72.34 568.70,72.16 569.20,72.29 569.70,71.70 570.20,71.62 570.70,71.36 571.20,71.46 571.70,71.31 572.20,71.06 572.70,70.76 573.20,70.12 573.70,69.60 574.20,68.84 574.70,68.57 575.20,68.02 575.70,67.47 576.20,66.34 576.70,65.06 577.20,63.85 577.70,62.36 578.20,60.19 578.70,57.36 579.20,53.55 579.70,49.17 580.20,44.10 580.70,38.91 581.20,34.13 581.70,30.75 582.20,30.32 582.70,32.33 583.20,36.53 583.70,41.41 584.20,46.66 584.70,51.37 585.20,55.42 585.70,58.43 586.20,60.89 586.70,62.70 587.20,64.54 587.70,65.68 588.20,66.61 588.70,67.20 589.20,68.20 589.70,69.06 590.20,69.87 590.70,69.99 591.20,70.32 591.70,70.56 592.20,70.96 592.70,71.16 593.20,71.55 593.70,71.98 594.20,72.26 594.70,72.40 595.20,72.41 595.70,72.54 596.20,72.60 596.70,72.84 597.20,72.92 597.70,72.98 598.20,72.98 598.70,72.98 599.20,73.33 599.70,73.46 600.20,73.64 600.70,73.70 601.20,73.85 601.70,73.66 602.20,73.52 602.70,73.49 603.20,73.93 603.70,74.03 604.20,74.06 604.70,73.73 605.20,73.50 605.70,73.47 606.20,73.69 606.70,73.69 607.20,73.64 607.70,73.55 608.20,73.70 608.70,73.80 609.20,73.83 609.70,73.70 610.20,73.82 610.70,74.05 611.20,74.20 611.70,74.18 612.20,74.06 612.70,74.16 613.20,74.11 613.70,73.98 614.20,73.98 614.70,74.05 615.20,74.05 615.70,74.22 616.20,74.36 616.70,74.68 617.20,74.69 617.70,74.54 618.20,74.29 618.70,73.99 619.20,73.81 619.70,73.86 620.20,73.93 620.70,74.10 621.20,73.85 621.70,74.13 622.20,74.31 622.70,74.55 623.20,74.35 623.70,74.14 624.20,74.18 624.70,74.07 625.20,74.00 625.70,73.87 626.20,73.92 626.70,73.93 627.20,74.06 627.70,73.94 628.20,73.94 628.70,73.91 629.20,74.07 629.70,73.94 630.20,73.98 630.70,74.03 631.20,74.22 631.70,74.12 632.20,73.95 632.70,73.85 633.20,73.97 633.70,74.21 634.20,74.21 634.70,74.05 635.20,73.91 635.70,73.95 636.20,73.91 636.70,73.78 637.20,73.74 637.70,73.92 638.20,73.86 638.70,73.75 639.20,73.73 639.70,73.72 640.20,73.85 640.70,73.83 641.20,73.96 641.70,73.82 642.20,73.77 642.70,73.74 643.20,73.89" fill="none" stroke="#6bb8d6" stroke-width="1.1" stroke-linejoin="round" />
<polyline points="470.70,107.89 471.20,108.10 471.70,108.05 472.20,108.56 472.70,108.61 473.20,108.81 473.70,108.69 474.20,109.01 474.70,109.30 475.20,109.44 475.70,109.51 476.20,109.23 476.70,109.55 477.20,109.78 477.70,110.04 478.20,109.83 478.70,109.83 479.20,110.06 479.70,110.40 480.20,110.46 480.70,110.01 481.20,109.75 481.70,109.84 482.20,109.93 482.70,110.20 483.20,110.27 483.70,110.57 484.20,110.56 484.70,110.23 485.20,109.93 485.70,109.75 486.20,109.77 486.70,109.95 487.20,110.05 487.70,109.99 488.20,109.95 488.70,109.84 489.20,109.79 489.70,109.96 490.20,109.89 490.70,109.84 491.20,109.46 491.70,109.22 492.20,109.34 492.70,109.32 493.20,109.18 493.70,108.82 494.20,108.71 494.70,108.73 495.20,108.91 495.70,108.68 496.20,108.75 496.70,108.54 497.20,108.57 497.70,108.58 498.20,108.61 498.70,108.94 499.20,108.93 499.70,109.06 500.20,108.81 500.70,108.78 501.20,108.92 501.70,109.40 502.20,109.63 502.70,109.49 503.20,109.57 503.70,109.23 504.20,109.17 504.70,109.08 505.20,109.47 505.70,109.40 506.20,108.99 506.70,109.08 507.20,109.23 507.70,109.35 508.20,109.12 508.70,109.20 509.20,108.92 509.70,109.05 510.20,109.00 510.70,109.04 511.20,108.96 511.70,108.56 512.20,109.01 512.70,108.93 513.20,109.51 513.70,109.22 514.20,109.13 514.70,108.92 515.20,108.89 515.70,108.75 516.20,108.51 516.70,108.57 517.20,108.48 517.70,108.58 518.20,108.65 518.70,108.79 519.20,108.95 519.70,108.75 520.20,108.87 520.70,108.47 521.20,108.57 521.70,108.02 522.20,108.06 522.70,107.86 523.20,108.01 523.70,107.82 524.20,107.73 524.70,107.63 525.20,107.33 525.70,107.23 526.20,107.19 526.70,107.37 527.20,107.24 527.70,107.23 528.20,107.36 528.70,107.42 529.20,107.30 529.70,107.32 530.20,107.44 530.70,107.59 531.20,107.49 531.70,107.23 532.20,107.01 532.70,106.94 533.20,106.84 533.70,106.77 534.20,106.60 534.70,106.67 535.20,106.58 535.70,106.61 536.20,106.47 536.70,106.56 537.20,106.51 537.70,106.57 538.20,106.51 538.70,106.11 539.20,105.75 539.70,105.49 540.20,105.67 540.70,106.03 541.20,105.88 541.70,105.79 542.20,105.38 542.70,105.39 543.20,105.24 543.70,105.41 544.20,105.49 544.70,105.64 545.20,105.33 545.70,105.37 546.20,105.27 546.70,105.37 547.20,105.24 547.70,104.96 548.20,104.72 548.70,104.52 549.20,104.45 549.70,104.99 550.20,104.91 550.70,105.19 551.20,104.73 551.70,104.79 552.20,104.59 552.70,104.38 553.20,104.41 553.70,104.29 554.20,104.12 554.70,104.03 555.20,104.09 555.70,104.43 556.20,104.61 556.70,104.51 557.20,104.55 557.70,104.47 558.20,104.43 558.70,104.57 559.20,104.28 559.70,104.26 560.20,104.20 560.70,104.29 561.20,104.51 561.70,104.22 562.20,104.43 562.70,104.32 563.20,104.65 563.70,104.45 564.20,104.73 564.70,104.67 565.20,104.90 565.70,104.73 566.20,104.70 566.70,104.41 567.20,103.94 567.70,103.84 568.20,103.80 568.70,104.03 569.20,104.00 569.70,103.75 570.20,103.62 570.70,103.37 571.20,103.42 571.70,103.49 572.20,103.47 572.70,103.42 573.20,103.13 573.70,103.18 574.20,103.12 574.70,103.26 575.20,103.12 575.70,102.85 576.20,102.50 576.70,102.35 577.20,102.59 577.70,102.78 578.20,102.81 578.70,102.83 579.20,102.56 579.70,102.32 580.20,102.19 580.70,102.09 581.20,102.20 581.70,101.75 582.20,101.82 582.70,101.55 583.20,101.40 583.70,101.36 584.20,101.34 584.70,101.55 585.20,101.18 585.70,101.04 586.20,101.24 586.70,101.25 587.20,100.78 587.70,100.40 588.20,100.32 588.70,100.80 589.20,100.85 589.70,100.87 590.20,100.74 590.70,100.93 591.20,100.83 591.70,101.23 592.20,100.96 592.70,100.99 593.20,100.79 593.70,100.94 594.20,100.92 594.70,100.89 595.20,100.51 595.70,100.50 596.20,100.54 596.70,100.75 597.20,100.67 597.70,100.56 598.20,100.71 598.70,100.88 599.20,100.51 599.70,100.30 600.20,100.34 600.70,100.70 601.20,101.01 601.70,100.88 602.20,100.67 602.70,100.37 603.20,100.56 603.70,100.47 604.20,100.65 604.70,100.03 605.20,100.27 605.70,99.95 606.20,100.41 606.70,100.37 607.20,100.27 607.70,100.17 608.20,100.07 608.70,100.32 609.20,100.17 609.70,99.96 610.20,99.56 610.70,100.06 611.20,100.15 611.70,100.39 612.20,99.76 612.70,99.90 613.20,99.83 613.70,100.25 614.20,100.22 614.70,100.28 615.20,100.15 615.70,99.83 616.20,99.75 616.70,99.53 617.20,99.49 617.70,99.52 618.20,99.56 618.70,99.94 619.20,99.41 619.70,99.31 620.20,98.93 620.70,99.34 621.20,99.49 621.70,99.66 622.20,99.71 622.70,99.55 623.20,99.54 623.70,99.57 624.20,99.34 624.70,99.21 625.20,98.92 625.70,99.00 626.20,99.04 626.70,99.23 627.20,99.40 627.70,99.22 628.20,99.16 628.70,98.98 629.20,99.15 629.70,99.26 630.20,99.64 630.70,99.75 631.20,99.50 631.70,99.15 632.20,98.79 632.70,98.93 633.20,99.28 633.70,99.50 634.20,99.10 634.70,98.59 635.20,98.27 635.70,98.65 636.20,98.82 636.70,99.04 637.20,99.20 637.70,99.06 638.20,98.86 638.70,98.87 639.20,99.02 639.70,99.00 640.20,98.38 640.70,98.08 641.20,97.81 641.70,98.10 642.20,98.31 642.70,98.80 643.20,98.75" fill="none" stroke="#e5534b" stroke-width="1.1" stroke-linejoin="round" />
<line x1="470.10" y1="14.50" x2="644.10" y2="14.50" stroke="#222" stroke-width="1.1" />
<line x1="470.70" y1="14.50" x2="470.70" y2="129.80" stroke="#222" stroke-width="1.4" />
<line x1="643.50" y1="14.50" x2="643.50" y2="129.80" stroke="#222" stroke-width="1.4" />
<line x1="470.10" y1="129.80" x2="644.10" y2="129.80" stroke="#333" stroke-width="1.5" />
<line x1="470.70" y1="129.80" x2="470.70" y2="132.00" stroke="#222" stroke-width="1" />
<text transform="translate(470.70,139.80) scale(0.87,1)" font-size="8.6" text-anchor="middle" fill="#333" stroke="#333">800</text>
<line x1="528.30" y1="129.80" x2="528.30" y2="132.00" stroke="#222" stroke-width="1" />
<text transform="translate(528.30,139.80) scale(0.87,1)" font-size="8.6" text-anchor="middle" fill="#333" stroke="#333">1200</text>
<line x1="585.90" y1="129.80" x2="585.90" y2="132.00" stroke="#222" stroke-width="1" />
<text transform="translate(585.90,139.80) scale(0.87,1)" font-size="8.6" text-anchor="middle" fill="#333" stroke="#333">1600</text>
<line x1="643.50" y1="129.80" x2="643.50" y2="132.00" stroke="#222" stroke-width="1" />
<text transform="translate(643.50,139.80) scale(0.87,1)" font-size="8.6" text-anchor="middle" fill="#333" stroke="#333">2000</text>
<line x1="499.50" y1="129.80" x2="499.50" y2="131.10" stroke="#222" stroke-width="0.9" />
<line x1="557.10" y1="129.80" x2="557.10" y2="131.10" stroke="#222" stroke-width="0.9" />
<line x1="614.70" y1="129.80" x2="614.70" y2="131.10" stroke="#222" stroke-width="0.9" />
<text x="557.50" y="149.10" font-size="9.7" text-anchor="middle" fill="#111" stroke="#111" >Raman shift (cm<tspan dy="-3.6" font-size="6.2">-1</tspan><tspan dy="3.6">)</tspan></text>
<text transform="translate(466.5,106) rotate(-90)" font-size="9.9" fill="#111" stroke="#111">Intensity (a.u.)</text>
<text x="443.70" y="18.60" font-size="16.8" text-anchor="start" fill="#111" stroke="#111" >b</text>
<text x="548.70" y="57.90" font-size="9.9" text-anchor="middle" fill="#111" stroke="#111" >D</text>
<text x="581.70" y="28.00" font-size="9.9" text-anchor="middle" fill="#111" stroke="#111" >G</text>
<text x="473.50" y="60.20" font-size="9.7" text-anchor="start" fill="#78bedb" stroke="#78bedb" >Ir-cages</text>
<text x="473.50" y="71.60" font-size="9.7" text-anchor="start" fill="#78bedb" stroke="#78bedb" >after 30-hour</text>
<text x="580.50" y="85.40" font-size="9.7" text-anchor="start" fill="#ea655d" stroke="#ea655d" >Ag@Ir-cages</text>
<text x="580.50" y="95.90" font-size="9.7" text-anchor="start" fill="#ea655d" stroke="#ea655d" >after 300-hour</text>
<line x1="67.00" y1="271.50" x2="179.40" y2="185.20" stroke="#e5534b" stroke-width="1.1" stroke-dasharray="3.2,2.6"/>
<circle cx="65.10" cy="270.00" r="3.8" fill="url(#gR)"/>
<ellipse cx="64.20" cy="270.10" rx="1.7" ry="1.0" fill="#fff" opacity="0.8"/>
<line x1="65.10" y1="266.40" x2="65.10" y2="269.30" stroke="#1a1a1a" stroke-width="0.8" />
<line x1="65.10" y1="271.10" x2="65.10" y2="273.60" stroke="#1a1a1a" stroke-width="0.8" />
<line x1="63.90" y1="269.30" x2="66.30" y2="269.30" stroke="#1a1a1a" stroke-width="0.8" />
<line x1="63.90" y1="271.10" x2="66.30" y2="271.10" stroke="#1a1a1a" stroke-width="0.8" />
<circle cx="79.70" cy="255.80" r="3.8" fill="url(#gR)"/>
<ellipse cx="78.80" cy="255.90" rx="1.7" ry="1.0" fill="#fff" opacity="0.8"/>
<line x1="79.70" y1="252.20" x2="79.70" y2="255.10" stroke="#1a1a1a" stroke-width="0.8" />
<line x1="79.70" y1="256.90" x2="79.70" y2="259.40" stroke="#1a1a1a" stroke-width="0.8" />
<line x1="78.50" y1="255.10" x2="80.90" y2="255.10" stroke="#1a1a1a" stroke-width="0.8" />
<line x1="78.50" y1="256.90" x2="80.90" y2="256.90" stroke="#1a1a1a" stroke-width="0.8" />
<circle cx="98.60" cy="250.90" r="3.8" fill="url(#gR)"/>
<ellipse cx="97.70" cy="251.00" rx="1.7" ry="1.0" fill="#fff" opacity="0.8"/>
<line x1="98.60" y1="247.30" x2="98.60" y2="250.20" stroke="#1a1a1a" stroke-width="0.8" />
<line x1="98.60" y1="252.00" x2="98.60" y2="254.50" stroke="#1a1a1a" stroke-width="0.8" />
<line x1="97.40" y1="250.20" x2="99.80" y2="250.20" stroke="#1a1a1a" stroke-width="0.8" />
<line x1="97.40" y1="252.00" x2="99.80" y2="252.00" stroke="#1a1a1a" stroke-width="0.8" />
<circle cx="118.60" cy="232.70" r="3.8" fill="url(#gR)"/>
<ellipse cx="117.70" cy="232.80" rx="1.7" ry="1.0" fill="#fff" opacity="0.8"/>
<line x1="118.60" y1="229.10" x2="118.60" y2="232.00" stroke="#1a1a1a" stroke-width="0.8" />
<line x1="118.60" y1="233.80" x2="118.60" y2="236.30" stroke="#1a1a1a" stroke-width="0.8" />
<line x1="117.40" y1="232.00" x2="119.80" y2="232.00" stroke="#1a1a1a" stroke-width="0.8" />
<line x1="117.40" y1="233.80" x2="119.80" y2="233.80" stroke="#1a1a1a" stroke-width="0.8" />
<circle cx="136.30" cy="213.40" r="3.8" fill="url(#gR)"/>
<ellipse cx="135.40" cy="213.50" rx="1.7" ry="1.0" fill="#fff" opacity="0.8"/>
<line x1="136.30" y1="209.80" x2="136.30" y2="212.70" stroke="#1a1a1a" stroke-width="0.8" />
<line x1="136.30" y1="214.50" x2="136.30" y2="217.00" stroke="#1a1a1a" stroke-width="0.8" />
<line x1="135.10" y1="212.70" x2="137.50" y2="212.70" stroke="#1a1a1a" stroke-width="0.8" />
<line x1="135.10" y1="214.50" x2="137.50" y2="214.50" stroke="#1a1a1a" stroke-width="0.8" />
<circle cx="158.00" cy="204.50" r="3.8" fill="url(#gR)"/>
<ellipse cx="157.10" cy="204.60" rx="1.7" ry="1.0" fill="#fff" opacity="0.8"/>
<line x1="158.00" y1="200.90" x2="158.00" y2="203.80" stroke="#1a1a1a" stroke-width="0.8" />
<line x1="158.00" y1="205.60" x2="158.00" y2="208.10" stroke="#1a1a1a" stroke-width="0.8" />
<line x1="156.80" y1="203.80" x2="159.20" y2="203.80" stroke="#1a1a1a" stroke-width="0.8" />
<line x1="156.80" y1="205.60" x2="159.20" y2="205.60" stroke="#1a1a1a" stroke-width="0.8" />
<circle cx="179.40" cy="184.90" r="3.8" fill="url(#gR)"/>
<ellipse cx="178.50" cy="185.00" rx="1.7" ry="1.0" fill="#fff" opacity="0.8"/>
<line x1="179.40" y1="181.30" x2="179.40" y2="184.20" stroke="#1a1a1a" stroke-width="0.8" />
<line x1="179.40" y1="186.00" x2="179.40" y2="188.50" stroke="#1a1a1a" stroke-width="0.8" />
<line x1="178.20" y1="184.20" x2="180.60" y2="184.20" stroke="#1a1a1a" stroke-width="0.8" />
<line x1="178.20" y1="186.00" x2="180.60" y2="186.00" stroke="#1a1a1a" stroke-width="0.8" />
<line x1="44.30" y1="166.00" x2="201.60" y2="166.00" stroke="#5a5a5a" stroke-width="1.5" />
<line x1="46.50" y1="166.50" x2="46.50" y2="281.30" stroke="#111" stroke-width="1.4" />
<line x1="201.00" y1="166.50" x2="201.00" y2="281.30" stroke="#222" stroke-width="1.3" />
<line x1="45.90" y1="281.30" x2="201.60" y2="281.30" stroke="#222" stroke-width="1.5" />
<line x1="44.00" y1="281.30" x2="46.50" y2="281.30" stroke="#222" stroke-width="1" />
<text transform="translate(42.70,283.00) scale(0.87,1)" font-size="8.6" text-anchor="end" fill="#333" stroke="#333">0</text>
<line x1="44.00" y1="258.34" x2="46.50" y2="258.34" stroke="#222" stroke-width="1" />
<text transform="translate(42.70,260.04) scale(0.87,1)" font-size="8.6" text-anchor="end" fill="#333" stroke="#333">500</text>
<line x1="44.00" y1="235.38" x2="46.50" y2="235.38" stroke="#222" stroke-width="1" />
<text transform="translate(42.70,237.08) scale(0.87,1)" font-size="8.6" text-anchor="end" fill="#333" stroke="#333">1000</text>
<line x1="44.00" y1="212.42" x2="46.50" y2="212.42" stroke="#222" stroke-width="1" />
<text transform="translate(42.70,214.12) scale(0.87,1)" font-size="8.6" text-anchor="end" fill="#333" stroke="#333">1500</text>
<line x1="44.00" y1="189.46" x2="46.50" y2="189.46" stroke="#222" stroke-width="1" />
<text transform="translate(42.70,191.16) scale(0.87,1)" font-size="8.6" text-anchor="end" fill="#333" stroke="#333">2000</text>
<line x1="44.00" y1="166.50" x2="46.50" y2="166.50" stroke="#222" stroke-width="1" />
<text transform="translate(42.70,168.20) scale(0.87,1)" font-size="8.6" text-anchor="end" fill="#333" stroke="#333">2500</text>
<line x1="45.20" y1="269.82" x2="46.50" y2="269.82" stroke="#222" stroke-width="0.9" />
<line x1="45.20" y1="246.86" x2="46.50" y2="246.86" stroke="#222" stroke-width="0.9" />
<line x1="45.20" y1="223.90" x2="46.50" y2="223.90" stroke="#222" stroke-width="0.9" />
<line x1="45.20" y1="200.94" x2="46.50" y2="200.94" stroke="#222" stroke-width="0.9" />
<line x1="45.20" y1="177.98" x2="46.50" y2="177.98" stroke="#222" stroke-width="0.9" />
<line x1="46.50" y1="281.30" x2="46.50" y2="283.50" stroke="#222" stroke-width="1" />
<text transform="translate(46.50,290.70) scale(0.87,1)" font-size="8.6" text-anchor="middle" fill="#333" stroke="#333">0</text>
<line x1="57.10" y1="281.30" x2="57.10" y2="283.50" stroke="#222" stroke-width="1" />
<text transform="translate(57.10,290.70) scale(0.87,1)" font-size="8.6" text-anchor="middle" fill="#333" stroke="#333">10</text>
<line x1="85.88" y1="281.30" x2="85.88" y2="283.50" stroke="#222" stroke-width="1" />
<text transform="translate(85.88,290.70) scale(0.87,1)" font-size="8.6" text-anchor="middle" fill="#333" stroke="#333">12</text>
<line x1="114.66" y1="281.30" x2="114.66" y2="283.50" stroke="#222" stroke-width="1" />
<text transform="translate(114.66,290.70) scale(0.87,1)" font-size="8.6" text-anchor="middle" fill="#333" stroke="#333">14</text>
<line x1="143.44" y1="281.30" x2="143.44" y2="283.50" stroke="#222" stroke-width="1" />
<text transform="translate(143.44,290.70) scale(0.87,1)" font-size="8.6" text-anchor="middle" fill="#333" stroke="#333">16</text>
<line x1="172.22" y1="281.30" x2="172.22" y2="283.50" stroke="#222" stroke-width="1" />
<text transform="translate(172.22,290.70) scale(0.87,1)" font-size="8.6" text-anchor="middle" fill="#333" stroke="#333">18</text>
<line x1="201.00" y1="281.30" x2="201.00" y2="283.50" stroke="#222" stroke-width="1" />
<text transform="translate(201.00,290.70) scale(0.87,1)" font-size="8.6" text-anchor="middle" fill="#333" stroke="#333">20</text>
<line x1="71.49" y1="281.30" x2="71.49" y2="282.60" stroke="#222" stroke-width="0.9" />
<line x1="100.27" y1="281.30" x2="100.27" y2="282.60" stroke="#222" stroke-width="0.9" />
<line x1="129.05" y1="281.30" x2="129.05" y2="282.60" stroke="#222" stroke-width="0.9" />
<line x1="157.83" y1="281.30" x2="157.83" y2="282.60" stroke="#222" stroke-width="0.9" />
<line x1="186.61" y1="281.30" x2="186.61" y2="282.60" stroke="#222" stroke-width="0.9" />
<line x1="50.20" y1="283.20" x2="52.40" y2="279.40" stroke="#111" stroke-width="1.1" />
<line x1="53.10" y1="283.20" x2="55.30" y2="279.40" stroke="#111" stroke-width="1.1" />
<rect x="49.90" y="165.30" width="5.6" height="2.4" fill="#fff"/>
<line x1="50.20" y1="168.40" x2="52.40" y2="164.60" stroke="#111" stroke-width="1.1" />
<line x1="53.10" y1="168.40" x2="55.30" y2="164.60" stroke="#111" stroke-width="1.1" />
<text x="124.00" y="301.30" font-size="9.7" text-anchor="middle" fill="#111" stroke="#111" >Light intensity (W cm<tspan dy="-3.6" font-size="6.2">-2</tspan><tspan dy="3.6">)</tspan></text>
<text transform="translate(23.90,295.00) rotate(-90)" font-size="9.7" fill="#111" stroke="#111" text-anchor="start">H<tspan dy="2.5" font-size="6.2">2</tspan><tspan dy="-2.5"> Production Rate (mmol g<tspan dy="-3.6" font-size="6.2">-1</tspan><tspan dy="3.6"> h</tspan><tspan dy="-3.6" font-size="6.2">-1</tspan><tspan dy="3.6">)</tspan></tspan></text>
<text x="0.20" y="171.20" font-size="16.8" text-anchor="start" fill="#111" stroke="#111" >c</text>
<line x1="280.30" y1="278.20" x2="395.80" y2="185.60" stroke="#e5534b" stroke-width="1.1" stroke-dasharray="3.2,2.6"/>
<circle cx="276.30" cy="274.50" r="3.8" fill="url(#gR)"/>
<ellipse cx="275.40" cy="274.60" rx="1.7" ry="1.0" fill="#fff" opacity="0.8"/>
<line x1="276.30" y1="270.90" x2="276.30" y2="273.80" stroke="#1a1a1a" stroke-width="0.8" />
<line x1="276.30" y1="275.60" x2="276.30" y2="278.10" stroke="#1a1a1a" stroke-width="0.8" />
<line x1="275.10" y1="273.80" x2="277.50" y2="273.80" stroke="#1a1a1a" stroke-width="0.8" />
<line x1="275.10" y1="275.60" x2="277.50" y2="275.60" stroke="#1a1a1a" stroke-width="0.8" />
<circle cx="291.60" cy="263.40" r="3.8" fill="url(#gR)"/>
<ellipse cx="290.70" cy="263.50" rx="1.7" ry="1.0" fill="#fff" opacity="0.8"/>
<line x1="291.60" y1="259.80" x2="291.60" y2="262.70" stroke="#1a1a1a" stroke-width="0.8" />
<line x1="291.60" y1="264.50" x2="291.60" y2="267.00" stroke="#1a1a1a" stroke-width="0.8" />
<line x1="290.40" y1="262.70" x2="292.80" y2="262.70" stroke="#1a1a1a" stroke-width="0.8" />
<line x1="290.40" y1="264.50" x2="292.80" y2="264.50" stroke="#1a1a1a" stroke-width="0.8" />
<circle cx="311.70" cy="252.30" r="3.8" fill="url(#gR)"/>
<ellipse cx="310.80" cy="252.40" rx="1.7" ry="1.0" fill="#fff" opacity="0.8"/>
<line x1="311.70" y1="248.70" x2="311.70" y2="251.60" stroke="#1a1a1a" stroke-width="0.8" />
<line x1="311.70" y1="253.40" x2="311.70" y2="255.90" stroke="#1a1a1a" stroke-width="0.8" />
<line x1="310.50" y1="251.60" x2="312.90" y2="251.60" stroke="#1a1a1a" stroke-width="0.8" />
<line x1="310.50" y1="253.40" x2="312.90" y2="253.40" stroke="#1a1a1a" stroke-width="0.8" />
<circle cx="332.60" cy="241.00" r="3.8" fill="url(#gR)"/>
<ellipse cx="331.70" cy="241.10" rx="1.7" ry="1.0" fill="#fff" opacity="0.8"/>
<line x1="332.60" y1="237.40" x2="332.60" y2="240.30" stroke="#1a1a1a" stroke-width="0.8" />
<line x1="332.60" y1="242.10" x2="332.60" y2="244.60" stroke="#1a1a1a" stroke-width="0.8" />
<line x1="331.40" y1="240.30" x2="333.80" y2="240.30" stroke="#1a1a1a" stroke-width="0.8" />
<line x1="331.40" y1="242.10" x2="333.80" y2="242.10" stroke="#1a1a1a" stroke-width="0.8" />
<circle cx="351.00" cy="222.80" r="3.8" fill="url(#gR)"/>
<ellipse cx="350.10" cy="222.90" rx="1.7" ry="1.0" fill="#fff" opacity="0.8"/>
<line x1="351.00" y1="219.20" x2="351.00" y2="222.10" stroke="#1a1a1a" stroke-width="0.8" />
<line x1="351.00" y1="223.90" x2="351.00" y2="226.40" stroke="#1a1a1a" stroke-width="0.8" />
<line x1="349.80" y1="222.10" x2="352.20" y2="222.10" stroke="#1a1a1a" stroke-width="0.8" />
<line x1="349.80" y1="223.90" x2="352.20" y2="223.90" stroke="#1a1a1a" stroke-width="0.8" />
<circle cx="373.40" cy="208.00" r="3.8" fill="url(#gR)"/>
<ellipse cx="372.50" cy="208.10" rx="1.7" ry="1.0" fill="#fff" opacity="0.8"/>
<line x1="373.40" y1="204.40" x2="373.40" y2="207.30" stroke="#1a1a1a" stroke-width="0.8" />
<line x1="373.40" y1="209.10" x2="373.40" y2="211.60" stroke="#1a1a1a" stroke-width="0.8" />
<line x1="372.20" y1="207.30" x2="374.60" y2="207.30" stroke="#1a1a1a" stroke-width="0.8" />
<line x1="372.20" y1="209.10" x2="374.60" y2="209.10" stroke="#1a1a1a" stroke-width="0.8" />
<circle cx="396.30" cy="184.90" r="3.8" fill="url(#gR)"/>
<ellipse cx="395.40" cy="185.00" rx="1.7" ry="1.0" fill="#fff" opacity="0.8"/>
<line x1="396.30" y1="181.30" x2="396.30" y2="184.20" stroke="#1a1a1a" stroke-width="0.8" />
<line x1="396.30" y1="186.00" x2="396.30" y2="188.50" stroke="#1a1a1a" stroke-width="0.8" />
<line x1="395.10" y1="184.20" x2="397.50" y2="184.20" stroke="#1a1a1a" stroke-width="0.8" />
<line x1="395.10" y1="186.00" x2="397.50" y2="186.00" stroke="#1a1a1a" stroke-width="0.8" />
<line x1="256.10" y1="165.50" x2="419.80" y2="165.50" stroke="#222" stroke-width="1.2" />
<line x1="256.70" y1="165.50" x2="256.70" y2="281.30" stroke="#111" stroke-width="1.4" />
<line x1="419.20" y1="165.50" x2="419.20" y2="281.30" stroke="#222" stroke-width="1.3" />
<line x1="256.10" y1="281.30" x2="419.80" y2="281.30" stroke="#222" stroke-width="1.5" />
<line x1="254.20" y1="281.30" x2="256.70" y2="281.30" stroke="#222" stroke-width="1" />
<text transform="translate(252.90,283.00) scale(0.87,1)" font-size="8.6" text-anchor="end" fill="#333" stroke="#333">0</text>
<line x1="254.20" y1="262.00" x2="256.70" y2="262.00" stroke="#222" stroke-width="1" />
<text transform="translate(252.90,263.70) scale(0.87,1)" font-size="8.6" text-anchor="end" fill="#333" stroke="#333">200</text>
<line x1="254.20" y1="242.70" x2="256.70" y2="242.70" stroke="#222" stroke-width="1" />
<text transform="translate(252.90,244.40) scale(0.87,1)" font-size="8.6" text-anchor="end" fill="#333" stroke="#333">400</text>
<line x1="254.20" y1="223.40" x2="256.70" y2="223.40" stroke="#222" stroke-width="1" />
<text transform="translate(252.90,225.10) scale(0.87,1)" font-size="8.6" text-anchor="end" fill="#333" stroke="#333">600</text>
<line x1="254.20" y1="204.10" x2="256.70" y2="204.10" stroke="#222" stroke-width="1" />
<text transform="translate(252.90,205.80) scale(0.87,1)" font-size="8.6" text-anchor="end" fill="#333" stroke="#333">800</text>
<line x1="254.20" y1="184.80" x2="256.70" y2="184.80" stroke="#222" stroke-width="1" />
<text transform="translate(252.90,186.50) scale(0.87,1)" font-size="8.6" text-anchor="end" fill="#333" stroke="#333">1000</text>
<line x1="254.20" y1="165.50" x2="256.70" y2="165.50" stroke="#222" stroke-width="1" />
<text transform="translate(252.90,167.20) scale(0.87,1)" font-size="8.6" text-anchor="end" fill="#333" stroke="#333">1200</text>
<line x1="255.40" y1="271.65" x2="256.70" y2="271.65" stroke="#222" stroke-width="0.9" />
<line x1="255.40" y1="252.35" x2="256.70" y2="252.35" stroke="#222" stroke-width="0.9" />
<line x1="255.40" y1="233.05" x2="256.70" y2="233.05" stroke="#222" stroke-width="0.9" />
<line x1="255.40" y1="213.75" x2="256.70" y2="213.75" stroke="#222" stroke-width="0.9" />
<line x1="255.40" y1="194.45" x2="256.70" y2="194.45" stroke="#222" stroke-width="0.9" />
<line x1="255.40" y1="175.15" x2="256.70" y2="175.15" stroke="#222" stroke-width="0.9" />
<line x1="256.70" y1="281.30" x2="256.70" y2="283.50" stroke="#222" stroke-width="1" />
<text transform="translate(256.70,290.90) scale(0.87,1)" font-size="8.6" text-anchor="middle" fill="#333" stroke="#333">0</text>
<line x1="267.20" y1="281.30" x2="267.20" y2="283.50" stroke="#222" stroke-width="1" />
<text transform="translate(267.20,290.90) scale(0.87,1)" font-size="8.6" text-anchor="middle" fill="#333" stroke="#333">10</text>
<line x1="297.60" y1="281.30" x2="297.60" y2="283.50" stroke="#222" stroke-width="1" />
<text transform="translate(297.60,290.90) scale(0.87,1)" font-size="8.6" text-anchor="middle" fill="#333" stroke="#333">12</text>
<line x1="328.00" y1="281.30" x2="328.00" y2="283.50" stroke="#222" stroke-width="1" />
<text transform="translate(328.00,290.90) scale(0.87,1)" font-size="8.6" text-anchor="middle" fill="#333" stroke="#333">14</text>
<line x1="358.40" y1="281.30" x2="358.40" y2="283.50" stroke="#222" stroke-width="1" />
<text transform="translate(358.40,290.90) scale(0.87,1)" font-size="8.6" text-anchor="middle" fill="#333" stroke="#333">16</text>
<line x1="388.80" y1="281.30" x2="388.80" y2="283.50" stroke="#222" stroke-width="1" />
<text transform="translate(388.80,290.90) scale(0.87,1)" font-size="8.6" text-anchor="middle" fill="#333" stroke="#333">18</text>
<line x1="419.20" y1="281.30" x2="419.20" y2="283.50" stroke="#222" stroke-width="1" />
<text transform="translate(419.20,290.90) scale(0.87,1)" font-size="8.6" text-anchor="middle" fill="#333" stroke="#333">20</text>
<line x1="282.40" y1="281.30" x2="282.40" y2="282.60" stroke="#222" stroke-width="0.9" />
<line x1="312.80" y1="281.30" x2="312.80" y2="282.60" stroke="#222" stroke-width="0.9" />
<line x1="343.20" y1="281.30" x2="343.20" y2="282.60" stroke="#222" stroke-width="0.9" />
<line x1="373.60" y1="281.30" x2="373.60" y2="282.60" stroke="#222" stroke-width="0.9" />
<line x1="404.00" y1="281.30" x2="404.00" y2="282.60" stroke="#222" stroke-width="0.9" />
<line x1="260.30" y1="283.20" x2="262.50" y2="279.40" stroke="#111" stroke-width="1.1" />
<line x1="263.20" y1="283.20" x2="265.40" y2="279.40" stroke="#111" stroke-width="1.1" />
<rect x="260.00" y="164.30" width="5.6" height="2.4" fill="#fff"/>
<line x1="260.30" y1="167.40" x2="262.50" y2="163.60" stroke="#111" stroke-width="1.1" />
<line x1="263.20" y1="167.40" x2="265.40" y2="163.60" stroke="#111" stroke-width="1.1" />
<text x="338.20" y="301.90" font-size="9.7" text-anchor="middle" fill="#111" stroke="#111" >Light intensity (W cm<tspan dy="-3.6" font-size="6.2">-2</tspan><tspan dy="3.6">)</tspan></text>
<text transform="translate(232.90,292.50) rotate(-90)" font-size="9.7" fill="#111" stroke="#111" text-anchor="start">CH<tspan dy="2.5" font-size="6.2">4</tspan><tspan dy="-2.5"> Reation Rate (mmol g<tspan dy="-3.6" font-size="6.2">-1</tspan><tspan dy="3.6"> h</tspan><tspan dy="-3.6" font-size="6.2">-1</tspan><tspan dy="3.6">)</tspan></tspan></text>
<text x="206.00" y="171.00" font-size="16.8" text-anchor="start" fill="#111" stroke="#111" >d</text>
<circle cx="495.90" cy="252.40" r="3.9" fill="url(#gR)"/>
<ellipse cx="495.00" cy="252.50" rx="1.7" ry="1.0" fill="#fff" opacity="0.8"/>
<line x1="495.90" y1="244.80" x2="495.90" y2="249.00" stroke="#333" stroke-width="0.9" />
<line x1="495.90" y1="255.80" x2="495.90" y2="260.00" stroke="#333" stroke-width="0.9" />
<line x1="494.80" y1="244.80" x2="497.00" y2="244.80" stroke="#333" stroke-width="1.0" />
<line x1="494.80" y1="260.00" x2="497.00" y2="260.00" stroke="#333" stroke-width="1.0" />
<circle cx="511.50" cy="223.00" r="3.6" fill="url(#gR)"/>
<ellipse cx="510.60" cy="223.10" rx="1.7" ry="1.0" fill="#fff" opacity="0.8"/>
<line x1="511.50" y1="219.80" x2="511.50" y2="222.30" stroke="#1a1a1a" stroke-width="0.8" />
<line x1="511.50" y1="224.10" x2="511.50" y2="226.20" stroke="#1a1a1a" stroke-width="0.8" />
<line x1="510.30" y1="222.30" x2="512.70" y2="222.30" stroke="#1a1a1a" stroke-width="0.8" />
<line x1="510.30" y1="224.10" x2="512.70" y2="224.10" stroke="#1a1a1a" stroke-width="0.8" />
<circle cx="531.90" cy="209.70" r="3.6" fill="url(#gR)"/>
<ellipse cx="531.00" cy="209.80" rx="1.7" ry="1.0" fill="#fff" opacity="0.8"/>
<line x1="531.90" y1="206.50" x2="531.90" y2="209.00" stroke="#1a1a1a" stroke-width="0.8" />
<line x1="531.90" y1="210.80" x2="531.90" y2="212.90" stroke="#1a1a1a" stroke-width="0.8" />
<line x1="530.70" y1="209.00" x2="533.10" y2="209.00" stroke="#1a1a1a" stroke-width="0.8" />
<line x1="530.70" y1="210.80" x2="533.10" y2="210.80" stroke="#1a1a1a" stroke-width="0.8" />
<circle cx="553.60" cy="192.90" r="3.6" fill="url(#gR)"/>
<ellipse cx="552.70" cy="193.00" rx="1.7" ry="1.0" fill="#fff" opacity="0.8"/>
<line x1="553.60" y1="189.70" x2="553.60" y2="192.20" stroke="#1a1a1a" stroke-width="0.8" />
<line x1="553.60" y1="194.00" x2="553.60" y2="196.10" stroke="#1a1a1a" stroke-width="0.8" />
<line x1="552.40" y1="192.20" x2="554.80" y2="192.20" stroke="#1a1a1a" stroke-width="0.8" />
<line x1="552.40" y1="194.00" x2="554.80" y2="194.00" stroke="#1a1a1a" stroke-width="0.8" />
<circle cx="572.30" cy="185.20" r="3.6" fill="url(#gR)"/>
<ellipse cx="571.40" cy="185.30" rx="1.7" ry="1.0" fill="#fff" opacity="0.8"/>
<line x1="572.30" y1="182.00" x2="572.30" y2="184.50" stroke="#1a1a1a" stroke-width="0.8" />
<line x1="572.30" y1="186.30" x2="572.30" y2="188.40" stroke="#1a1a1a" stroke-width="0.8" />
<line x1="571.10" y1="184.50" x2="573.50" y2="184.50" stroke="#1a1a1a" stroke-width="0.8" />
<line x1="571.10" y1="186.30" x2="573.50" y2="186.30" stroke="#1a1a1a" stroke-width="0.8" />
<circle cx="595.70" cy="183.60" r="3.6" fill="url(#gR)"/>
<ellipse cx="594.80" cy="183.70" rx="1.7" ry="1.0" fill="#fff" opacity="0.8"/>
<line x1="595.70" y1="180.40" x2="595.70" y2="182.90" stroke="#1a1a1a" stroke-width="0.8" />
<line x1="595.70" y1="184.70" x2="595.70" y2="186.80" stroke="#1a1a1a" stroke-width="0.8" />
<line x1="594.50" y1="182.90" x2="596.90" y2="182.90" stroke="#1a1a1a" stroke-width="0.8" />
<line x1="594.50" y1="184.70" x2="596.90" y2="184.70" stroke="#1a1a1a" stroke-width="0.8" />
<circle cx="619.50" cy="179.80" r="3.6" fill="url(#gR)"/>
<ellipse cx="618.60" cy="179.90" rx="1.7" ry="1.0" fill="#fff" opacity="0.8"/>
<line x1="619.50" y1="176.60" x2="619.50" y2="179.10" stroke="#1a1a1a" stroke-width="0.8" />
<line x1="619.50" y1="180.90" x2="619.50" y2="183.00" stroke="#1a1a1a" stroke-width="0.8" />
<line x1="618.30" y1="179.10" x2="620.70" y2="179.10" stroke="#1a1a1a" stroke-width="0.8" />
<line x1="618.30" y1="180.90" x2="620.70" y2="180.90" stroke="#1a1a1a" stroke-width="0.8" />
<line x1="470.10" y1="166.20" x2="643.20" y2="166.20" stroke="#555" stroke-width="1.4" />
<line x1="470.70" y1="166.20" x2="470.70" y2="281.00" stroke="#222" stroke-width="1.4" />
<line x1="642.60" y1="166.20" x2="642.60" y2="281.00" stroke="#222" stroke-width="1.3" />
<line x1="470.10" y1="281.00" x2="643.20" y2="281.00" stroke="#333" stroke-width="1.6" />
<line x1="468.20" y1="281.00" x2="470.70" y2="281.00" stroke="#222" stroke-width="1" />
<text transform="translate(466.90,284.00) scale(0.87,1)" font-size="8.6" text-anchor="end" fill="#333" stroke="#333">0.6</text>
<line x1="468.20" y1="253.88" x2="470.70" y2="253.88" stroke="#222" stroke-width="1" />
<text transform="translate(466.90,256.88) scale(0.87,1)" font-size="8.6" text-anchor="end" fill="#333" stroke="#333">0.7</text>
<line x1="468.20" y1="226.75" x2="470.70" y2="226.75" stroke="#222" stroke-width="1" />
<text transform="translate(466.90,229.75) scale(0.87,1)" font-size="8.6" text-anchor="end" fill="#333" stroke="#333">0.8</text>
<line x1="468.20" y1="199.62" x2="470.70" y2="199.62" stroke="#222" stroke-width="1" />
<text transform="translate(466.90,202.62) scale(0.87,1)" font-size="8.6" text-anchor="end" fill="#333" stroke="#333">0.9</text>
<line x1="468.20" y1="172.50" x2="470.70" y2="172.50" stroke="#222" stroke-width="1" />
<text transform="translate(466.90,175.50) scale(0.87,1)" font-size="8.6" text-anchor="end" fill="#333" stroke="#333">1.0</text>
<line x1="469.40" y1="267.44" x2="470.70" y2="267.44" stroke="#222" stroke-width="0.9" />
<line x1="469.40" y1="240.31" x2="470.70" y2="240.31" stroke="#222" stroke-width="0.9" />
<line x1="469.40" y1="213.19" x2="470.70" y2="213.19" stroke="#222" stroke-width="0.9" />
<line x1="469.40" y1="186.06" x2="470.70" y2="186.06" stroke="#222" stroke-width="0.9" />
<line x1="486.33" y1="279.00" x2="486.33" y2="281.50" stroke="#222" stroke-width="1" />
<text transform="translate(486.33,290.50) scale(0.87,1)" font-size="8.6" text-anchor="middle" fill="#333" stroke="#333">10</text>
<line x1="517.58" y1="279.00" x2="517.58" y2="281.50" stroke="#222" stroke-width="1" />
<text transform="translate(517.58,290.50) scale(0.87,1)" font-size="8.6" text-anchor="middle" fill="#333" stroke="#333">12</text>
<line x1="548.84" y1="279.00" x2="548.84" y2="281.50" stroke="#222" stroke-width="1" />
<text transform="translate(548.84,290.50) scale(0.87,1)" font-size="8.6" text-anchor="middle" fill="#333" stroke="#333">14</text>
<line x1="580.09" y1="279.00" x2="580.09" y2="281.50" stroke="#222" stroke-width="1" />
<text transform="translate(580.09,290.50) scale(0.87,1)" font-size="8.6" text-anchor="middle" fill="#333" stroke="#333">16</text>
<line x1="611.35" y1="279.00" x2="611.35" y2="281.50" stroke="#222" stroke-width="1" />
<text transform="translate(611.35,290.50) scale(0.87,1)" font-size="8.6" text-anchor="middle" fill="#333" stroke="#333">18</text>
<line x1="642.60" y1="279.00" x2="642.60" y2="281.50" stroke="#222" stroke-width="1" />
<text transform="translate(642.60,290.50) scale(0.87,1)" font-size="8.6" text-anchor="middle" fill="#333" stroke="#333">20</text>
<line x1="501.95" y1="281.00" x2="501.95" y2="282.30" stroke="#222" stroke-width="0.9" />
<line x1="533.21" y1="281.00" x2="533.21" y2="282.30" stroke="#222" stroke-width="0.9" />
<line x1="564.46" y1="281.00" x2="564.46" y2="282.30" stroke="#222" stroke-width="0.9" />
<line x1="595.72" y1="281.00" x2="595.72" y2="282.30" stroke="#222" stroke-width="0.9" />
<line x1="626.97" y1="281.00" x2="626.97" y2="282.30" stroke="#222" stroke-width="0.9" />
<text x="556.70" y="299.60" font-size="9.7" text-anchor="middle" fill="#111" stroke="#111" >Light Intensity (W cm<tspan dy="-3.6" font-size="6.2">-2</tspan><tspan dy="3.6">)</tspan></text>
<text transform="translate(452.00,266.60) rotate(-90)" font-size="10.0" fill="#111" stroke="#111" text-anchor="start">Selectivity (H<tspan dy="2.5" font-size="6.2">2</tspan><tspan dy="-2.5">/CO)</tspan></text>
<text x="444.00" y="171.10" font-size="16.8" text-anchor="start" fill="#111" stroke="#111" >e</text>
<rect x="52.38" y="419.60" width="9.1" height="13.90" fill="url(#gB)"/>
<rect x="69.98" y="411.91" width="9.1" height="21.59" fill="url(#gB)"/>
<rect x="92.06" y="403.21" width="9.1" height="30.29" fill="url(#gB)"/>
<rect x="116.73" y="394.67" width="9.1" height="38.83" fill="url(#gB)"/>
<rect x="137.60" y="384.57" width="9.1" height="48.93" fill="url(#gB)"/>
<rect x="163.82" y="374.47" width="9.1" height="59.03" fill="url(#gB)"/>
<rect x="189.86" y="364.22" width="9.1" height="69.28" fill="url(#gB)"/>
<line x1="46.50" y1="317.00" x2="203.20" y2="317.00" stroke="#222" stroke-width="1.2" />
<line x1="47.10" y1="317.00" x2="47.10" y2="433.50" stroke="#333" stroke-width="1.5" />
<line x1="202.60" y1="317.00" x2="202.60" y2="433.50" stroke="#444" stroke-width="1.3" />
<line x1="46.50" y1="433.50" x2="203.20" y2="433.50" stroke="#222" stroke-width="1.5" />
<line x1="44.60" y1="433.50" x2="47.10" y2="433.50" stroke="#222" stroke-width="1" />
<text transform="translate(43.30,436.30) scale(0.87,1)" font-size="8.6" text-anchor="end" fill="#333" stroke="#333">300</text>
<line x1="44.60" y1="410.20" x2="47.10" y2="410.20" stroke="#222" stroke-width="1" />
<text transform="translate(43.30,413.00) scale(0.87,1)" font-size="8.6" text-anchor="end" fill="#333" stroke="#333">330</text>
<line x1="44.60" y1="386.90" x2="47.10" y2="386.90" stroke="#222" stroke-width="1" />
<text transform="translate(43.30,389.70) scale(0.87,1)" font-size="8.6" text-anchor="end" fill="#333" stroke="#333">360</text>
<line x1="44.60" y1="363.60" x2="47.10" y2="363.60" stroke="#222" stroke-width="1" />
<text transform="translate(43.30,366.40) scale(0.87,1)" font-size="8.6" text-anchor="end" fill="#333" stroke="#333">390</text>
<line x1="44.60" y1="340.30" x2="47.10" y2="340.30" stroke="#222" stroke-width="1" />
<text transform="translate(43.30,343.10) scale(0.87,1)" font-size="8.6" text-anchor="end" fill="#333" stroke="#333">420</text>
<line x1="44.60" y1="317.00" x2="47.10" y2="317.00" stroke="#222" stroke-width="1" />
<text transform="translate(43.30,319.80) scale(0.87,1)" font-size="8.6" text-anchor="end" fill="#333" stroke="#333">450</text>
<line x1="45.80" y1="421.85" x2="47.10" y2="421.85" stroke="#222" stroke-width="0.9" />
<line x1="45.80" y1="398.55" x2="47.10" y2="398.55" stroke="#222" stroke-width="0.9" />
<line x1="45.80" y1="375.25" x2="47.10" y2="375.25" stroke="#222" stroke-width="0.9" />
<line x1="45.80" y1="351.95" x2="47.10" y2="351.95" stroke="#222" stroke-width="0.9" />
<line x1="45.80" y1="328.65" x2="47.10" y2="328.65" stroke="#222" stroke-width="0.9" />
<line x1="47.10" y1="433.50" x2="47.10" y2="435.70" stroke="#222" stroke-width="1" />
<text transform="translate(47.10,442.70) scale(0.87,1)" font-size="8.6" text-anchor="middle" fill="#333" stroke="#333">10</text>
<line x1="81.60" y1="433.50" x2="81.60" y2="435.70" stroke="#222" stroke-width="1" />
<text transform="translate(81.60,442.70) scale(0.87,1)" font-size="8.6" text-anchor="middle" fill="#333" stroke="#333">12</text>
<line x1="116.10" y1="433.50" x2="116.10" y2="435.70" stroke="#222" stroke-width="1" />
<text transform="translate(116.10,442.70) scale(0.87,1)" font-size="8.6" text-anchor="middle" fill="#333" stroke="#333">14</text>
<line x1="150.60" y1="433.50" x2="150.60" y2="435.70" stroke="#222" stroke-width="1" />
<text transform="translate(150.60,442.70) scale(0.87,1)" font-size="8.6" text-anchor="middle" fill="#333" stroke="#333">16</text>
<line x1="185.10" y1="433.50" x2="185.10" y2="435.70" stroke="#222" stroke-width="1" />
<text transform="translate(185.10,442.70) scale(0.87,1)" font-size="8.6" text-anchor="middle" fill="#333" stroke="#333">18</text>
<line x1="64.35" y1="433.50" x2="64.35" y2="434.80" stroke="#222" stroke-width="0.9" />
<line x1="98.85" y1="433.50" x2="98.85" y2="434.80" stroke="#222" stroke-width="0.9" />
<line x1="133.35" y1="433.50" x2="133.35" y2="434.80" stroke="#222" stroke-width="0.9" />
<line x1="167.85" y1="433.50" x2="167.85" y2="434.80" stroke="#222" stroke-width="0.9" />
<text x="125.00" y="452.50" font-size="9.9" text-anchor="middle" fill="#111" stroke="#111" >Light Intensity (W cm<tspan dy="-3.6" font-size="6.2">-2</tspan><tspan dy="3.6">)</tspan></text>
<text transform="translate(26.00,411.60) rotate(-90)" font-size="10.1" fill="#111" stroke="#111" text-anchor="start">Temperature (°C)</text>
<text x="0.30" y="321.40" font-size="16.8" text-anchor="start" fill="#111" stroke="#111" >f</text>
<rect x="261.90" y="337.80" width="8.10" height="95.60" fill="#e5554d"/>
<rect x="270.20" y="334.76" width="7.80" height="98.64" fill="#f4a552"/>
<rect x="370.90" y="418.17" width="7.30" height="15.23" fill="#e5554d"/>
<rect x="378.80" y="385.86" width="7.80" height="47.54" fill="#f4a552"/>
<rect x="397.70" y="417.94" width="7.40" height="15.46" fill="#e5554d"/>
<rect x="405.90" y="384.47" width="7.40" height="48.93" fill="#f4a552"/>
<line x1="284.40" y1="318.50" x2="284.40" y2="433.00" stroke="#ff1a1a" stroke-width="1.2" stroke-dasharray="3.4,4.2"/>
<line x1="256.00" y1="318.00" x2="419.80" y2="318.00" stroke="#666" stroke-width="1.4" />
<line x1="256.60" y1="318.00" x2="256.60" y2="433.40" stroke="#111" stroke-width="1.4" />
<line x1="419.20" y1="318.00" x2="419.20" y2="433.40" stroke="#666" stroke-width="1.4" />
<line x1="256.00" y1="433.40" x2="419.80" y2="433.40" stroke="#222" stroke-width="1.5" />
<line x1="254.10" y1="433.40" x2="256.60" y2="433.40" stroke="#222" stroke-width="1" />
<text transform="translate(252.40,436.00) scale(0.87,1)" font-size="8.6" text-anchor="end" fill="#333" stroke="#333">0</text>
<line x1="254.10" y1="410.32" x2="256.60" y2="410.32" stroke="#222" stroke-width="1" />
<text transform="translate(252.40,412.92) scale(0.87,1)" font-size="8.6" text-anchor="end" fill="#333" stroke="#333">500</text>
<line x1="254.10" y1="387.24" x2="256.60" y2="387.24" stroke="#222" stroke-width="1" />
<text transform="translate(252.40,389.84) scale(0.87,1)" font-size="8.6" text-anchor="end" fill="#333" stroke="#333">1000</text>
<line x1="254.10" y1="364.16" x2="256.60" y2="364.16" stroke="#222" stroke-width="1" />
<text transform="translate(252.40,366.76) scale(0.87,1)" font-size="8.6" text-anchor="end" fill="#333" stroke="#333">1500</text>
<line x1="254.10" y1="341.08" x2="256.60" y2="341.08" stroke="#222" stroke-width="1" />
<text transform="translate(252.40,343.68) scale(0.87,1)" font-size="8.6" text-anchor="end" fill="#333" stroke="#333">2000</text>
<line x1="254.10" y1="318.00" x2="256.60" y2="318.00" stroke="#222" stroke-width="1" />
<text transform="translate(252.40,320.60) scale(0.87,1)" font-size="8.6" text-anchor="end" fill="#333" stroke="#333">2500</text>
<line x1="255.30" y1="421.86" x2="256.60" y2="421.86" stroke="#222" stroke-width="0.9" />
<line x1="255.30" y1="398.78" x2="256.60" y2="398.78" stroke="#222" stroke-width="0.9" />
<line x1="255.30" y1="375.70" x2="256.60" y2="375.70" stroke="#222" stroke-width="0.9" />
<line x1="255.30" y1="352.62" x2="256.60" y2="352.62" stroke="#222" stroke-width="0.9" />
<line x1="255.30" y1="329.54" x2="256.60" y2="329.54" stroke="#222" stroke-width="0.9" />
<line x1="419.20" y1="433.40" x2="421.70" y2="433.40" stroke="#444" stroke-width="1" />
<text transform="translate(423.00,435.90) scale(0.87,1)" font-size="8.6" text-anchor="start" fill="#333" stroke="#333">0</text>
<line x1="419.20" y1="410.32" x2="421.70" y2="410.32" stroke="#444" stroke-width="1" />
<text transform="translate(423.00,412.82) scale(0.87,1)" font-size="8.6" text-anchor="start" fill="#333" stroke="#333">2</text>
<line x1="419.20" y1="387.24" x2="421.70" y2="387.24" stroke="#444" stroke-width="1" />
<text transform="translate(423.00,389.74) scale(0.87,1)" font-size="8.6" text-anchor="start" fill="#333" stroke="#333">4</text>
<line x1="419.20" y1="364.16" x2="421.70" y2="364.16" stroke="#444" stroke-width="1" />
<text transform="translate(423.00,366.66) scale(0.87,1)" font-size="8.6" text-anchor="start" fill="#333" stroke="#333">6</text>
<line x1="419.20" y1="341.08" x2="421.70" y2="341.08" stroke="#444" stroke-width="1" />
<text transform="translate(423.00,343.58) scale(0.87,1)" font-size="8.6" text-anchor="start" fill="#333" stroke="#333">8</text>
<line x1="419.20" y1="318.00" x2="421.70" y2="318.00" stroke="#444" stroke-width="1" />
<text transform="translate(423.00,320.50) scale(0.87,1)" font-size="8.6" text-anchor="start" fill="#333" stroke="#333">10</text>
<line x1="419.20" y1="421.86" x2="420.50" y2="421.86" stroke="#444" stroke-width="0.9" />
<line x1="419.20" y1="398.78" x2="420.50" y2="398.78" stroke="#444" stroke-width="0.9" />
<line x1="419.20" y1="375.70" x2="420.50" y2="375.70" stroke="#444" stroke-width="0.9" />
<line x1="419.20" y1="352.62" x2="420.50" y2="352.62" stroke="#444" stroke-width="0.9" />
<line x1="419.20" y1="329.54" x2="420.50" y2="329.54" stroke="#444" stroke-width="0.9" />
<line x1="270.50" y1="433.40" x2="270.50" y2="435.60" stroke="#222" stroke-width="1" />
<line x1="297.60" y1="433.40" x2="297.60" y2="435.60" stroke="#222" stroke-width="1" />
<line x1="324.60" y1="433.40" x2="324.60" y2="435.60" stroke="#222" stroke-width="1" />
<line x1="351.60" y1="433.40" x2="351.60" y2="435.60" stroke="#222" stroke-width="1" />
<line x1="378.50" y1="433.40" x2="378.50" y2="435.60" stroke="#222" stroke-width="1" />
<line x1="405.40" y1="433.40" x2="405.40" y2="435.60" stroke="#222" stroke-width="1" />
<line x1="284.05" y1="433.40" x2="284.05" y2="434.70" stroke="#222" stroke-width="0.9" />
<line x1="311.10" y1="433.40" x2="311.10" y2="434.70" stroke="#222" stroke-width="0.9" />
<line x1="338.10" y1="433.40" x2="338.10" y2="434.70" stroke="#222" stroke-width="0.9" />
<line x1="365.05" y1="433.40" x2="365.05" y2="434.70" stroke="#222" stroke-width="0.9" />
<line x1="391.95" y1="433.40" x2="391.95" y2="434.70" stroke="#222" stroke-width="0.9" />
<rect x="388.3" y="322.4" width="12.6" height="5.5" fill="#e5554d"/>
<rect x="388.3" y="331.9" width="12.6" height="5.5" fill="#f4a552"/>
<text x="402.90" y="327.40" font-size="6.3" text-anchor="start" fill="#111" >H<tspan dy="1.6" font-size="4.2">2</tspan></text>
<text x="402.90" y="336.70" font-size="6.3" text-anchor="start" fill="#111" >CO</text>
<text x="297.60" y="422.50" font-size="6.2" text-anchor="middle" fill="#333" >No</text>
<text x="297.60" y="429.80" font-size="6.2" text-anchor="middle" fill="#333" >detection</text>
<text x="324.60" y="422.50" font-size="6.2" text-anchor="middle" fill="#333" >No</text>
<text x="324.60" y="429.80" font-size="6.2" text-anchor="middle" fill="#333" >detection</text>
<text x="351.60" y="422.50" font-size="6.2" text-anchor="middle" fill="#333" >No</text>
<text x="351.60" y="429.80" font-size="6.2" text-anchor="middle" fill="#333" >detection</text>
<text x="310.30" y="372.20" font-size="10" text-anchor="start" fill="#ec6a63" stroke="#ec6a63" >Thermocatalysis</text>
<path d="M378.8,361.3 L378.8,354 Q379.2,347.2 387,346.7 L405.5,346.5" fill="none" stroke="#ff2020" stroke-width="0.9"/>
<path d="M409,346.5 L404.2,344.8 L405.1,346.5 L404.2,348.2 Z" fill="#ff2020"/>
<path d="M272.4,332.6 Q271.5,326.5 265,325.5" fill="none" stroke="#1a1aff" stroke-width="1.1"/>
<path d="M262.0,325.3 L266.2,323.6 L265.6,325.6 L266.0,327.4 Z" fill="#1a1aff"/>
<text transform="translate(261.20,443.10) rotate(32)" font-size="9.4" fill="#222" stroke="#222">18.5 W cm<tspan dy="-3.6" font-size="6.2">-2</tspan><tspan dy="3.6"></tspan></text>
<text transform="translate(292.20,443.10) rotate(32)" font-size="10.2" fill="#222" stroke="#222">425 °C</text>
<text transform="translate(319.20,443.10) rotate(32)" font-size="10.2" fill="#222" stroke="#222">460 °C</text>
<text transform="translate(346.20,443.10) rotate(32)" font-size="10.2" fill="#222" stroke="#222">500 °C</text>
<text transform="translate(373.10,443.10) rotate(32)" font-size="10.2" fill="#222" stroke="#222">540 °C</text>
<text transform="translate(400.00,443.10) rotate(32)" font-size="10.2" fill="#222" stroke="#222">580 °C</text>
<text transform="translate(233.30,443.30) rotate(-90)" font-size="10.0" fill="#111" stroke="#111" text-anchor="start">Production Rate (mmol g<tspan dy="-3.6" font-size="6.2">-1</tspan><tspan dy="3.6"> h</tspan><tspan dy="-3.6" font-size="6.2">-1</tspan><tspan dy="3.6">)</tspan></tspan></text>
<text transform="translate(435.10,308.70) rotate(90)" font-size="9.4" fill="#111" stroke="#111" text-anchor="start">Production Rate (mmol g<tspan dy="-3.6" font-size="6.2">-1</tspan><tspan dy="3.6"> h</tspan><tspan dy="-3.6" font-size="6.2">-1</tspan><tspan dy="3.6">)</tspan></tspan></text>
<text x="206.00" y="321.50" font-size="16.8" text-anchor="start" fill="#111" stroke="#111" >g</text>
<path d="M470.30,385.50 L470.80,384.35 L471.30,383.20 L471.80,382.05 L472.30,380.91 L472.80,379.76 L473.30,378.61 L473.80,377.46 L474.30,376.37 L474.80,375.31 L475.30,374.25 L475.80,373.19 L476.30,372.13 L476.80,371.08 L477.30,370.02 L477.80,368.96 L478.30,367.90 L478.80,366.85 L479.30,365.91 L479.80,365.44 L480.30,364.98 L480.80,364.52 L481.30,364.05 L481.80,363.59 L482.30,363.13 L482.80,362.66 L483.30,362.20 L483.80,361.74 L484.30,361.27 L484.80,360.81 L485.30,360.35 L485.80,359.89 L486.30,359.54 L486.80,359.28 L487.30,359.02 L487.80,358.75 L488.30,358.49 L488.80,358.23 L489.30,357.97 L489.80,357.71 L490.30,357.56 L490.80,357.49 L491.30,357.41 L491.80,357.34 L492.30,357.27 L492.80,357.20 L493.30,357.13 L493.80,357.06 L494.30,357.03 L494.80,357.19 L495.30,357.34 L495.80,357.50 L496.30,357.65 L496.80,357.81 L497.30,357.96 L497.80,358.12 L498.30,358.27 L498.80,358.43 L499.30,358.58 L499.80,358.74 L500.30,359.01 L500.80,359.36 L501.30,359.71 L501.80,360.06 L502.30,360.41 L502.80,360.76 L503.30,361.11 L503.80,361.46 L504.30,361.81 L504.80,362.16 L505.30,362.51 L505.80,362.86 L506.30,363.21 L506.80,363.56 L507.30,364.00 L507.80,364.50 L508.30,365.00 L508.80,365.50 L509.30,366.00 L509.80,366.50 L510.30,367.00 L510.80,367.50 L511.30,368.00 L511.80,368.50 L512.30,369.00 L512.80,369.50 L513.30,370.00 L513.80,370.50 L514.30,371.00 L514.80,371.43 L515.30,371.83 L515.80,372.22 L516.30,372.61 L516.80,373.00 L517.30,373.39 L517.80,373.78 L518.30,374.17 L518.80,374.56 L519.30,374.95 L519.80,375.34 L520.30,375.72 L520.80,376.09 L521.30,376.46 L521.80,376.83 L522.30,377.19 L522.80,377.56 L523.30,377.93 L523.80,378.30 L524.30,378.67 L524.80,379.04 L525.30,379.41 L525.80,379.77 L526.30,380.14 L526.80,380.51 L527.30,380.88 L527.80,381.25 L528.30,381.62 L528.80,381.98 L529.30,382.35 L529.80,382.67 L530.30,382.94 L530.80,383.22 L531.30,383.50 L531.80,383.78 L532.30,384.06 L532.80,384.33 L533.30,384.61 L533.80,384.89 L534.30,385.17 L534.80,385.44 L535.30,385.72 L535.80,386.00 L536.30,386.28 L536.80,386.56 L537.30,386.83 L537.80,387.11 L538.30,387.39 L538.80,387.67 L539.30,387.94 L539.80,388.22 L540.30,388.50 L540.80,388.78 L541.30,389.06 L541.80,389.33 L542.30,389.61 L542.80,389.89 L543.30,390.14 L543.80,390.37 L544.30,390.60 L544.80,390.82 L545.30,391.05 L545.80,391.28 L546.30,391.51 L546.80,391.74 L547.30,391.97 L547.80,392.20 L548.30,392.43 L548.80,392.66 L549.30,392.89 L549.80,393.12 L550.30,393.35 L550.80,393.57 L551.30,393.80 L551.80,394.03 L552.30,394.26 L552.80,394.49 L553.30,394.72 L553.80,394.95 L554.30,395.18 L554.80,395.41 L555.30,395.63 L555.80,395.84 L556.30,396.05 L556.80,396.26 L557.30,396.47 L557.80,396.68 L558.30,396.89 L558.80,397.10 L559.30,397.31 L559.80,397.52 L560.30,397.73 L560.80,397.94 L561.30,398.15 L561.80,398.36 L562.30,398.57 L562.80,398.78 L563.30,398.99 L563.80,399.20 L564.30,399.41 L564.80,399.62 L565.30,399.82 L565.80,400.01 L566.30,400.20 L566.80,400.40 L567.30,400.59 L567.80,400.78 L568.30,400.98 L568.80,401.17 L569.30,401.36 L569.80,401.56 L570.30,401.75 L570.80,401.94 L571.30,402.14 L571.80,402.33 L572.30,402.52 L572.80,402.72 L573.30,402.91 L573.80,403.10 L574.30,403.30 L574.80,403.49 L575.30,403.68 L575.80,403.88 L576.30,404.07 L576.80,404.26 L577.30,404.46 L577.80,404.65 L578.30,404.84 L578.80,405.04 L579.30,405.23 L579.80,405.42 L580.30,405.62 L580.80,405.82 L581.30,406.02 L581.80,406.22 L582.30,406.42 L582.80,406.62 L583.30,406.82 L583.80,407.02 L584.30,407.22 L584.80,407.42 L585.30,407.62 L585.80,407.82 L586.30,408.02 L586.80,408.22 L587.30,408.42 L587.80,408.62 L588.30,408.82 L588.80,409.02 L589.30,409.22 L589.80,409.42 L590.30,409.62 L590.80,409.82 L591.30,410.02 L591.80,410.22 L592.30,410.42 L592.80,410.62 L593.30,410.82 L593.80,411.02 L594.30,411.22 L594.80,411.42 L595.30,411.62 L595.80,411.82 L596.30,412.02 L596.80,412.22 L597.30,412.42 L597.80,412.62 L598.30,412.82 L598.80,413.02 L599.30,413.22 L599.80,413.42 L600.30,413.61 L600.80,413.79 L601.30,413.98 L601.80,414.16 L602.30,414.34 L602.80,414.53 L603.30,414.71 L603.80,414.89 L604.30,415.08 L604.80,415.26 L605.30,415.44 L605.80,415.63 L606.30,415.81 L606.80,415.99 L607.30,416.18 L607.80,416.36 L608.30,416.54 L608.80,416.73 L609.30,416.91 L609.80,417.09 L610.30,417.28 L610.80,417.46 L611.30,417.64 L611.80,417.83 L612.30,418.01 L612.80,418.19 L613.30,418.38 L613.80,418.56 L614.30,418.74 L614.80,418.93 L615.30,419.11 L615.80,419.29 L616.30,419.48 L616.80,419.66 L617.30,419.84 L617.80,420.03 L618.30,420.21 L618.80,420.39 L619.30,420.58 L619.80,420.76 L620.30,420.94 L620.80,421.13 L621.30,421.31 L621.80,421.49 L622.30,421.68 L622.80,421.86 L623.30,422.04 L623.80,422.23 L624.30,422.38 L624.80,422.52 L625.30,422.66 L625.80,422.80 L626.30,422.94 L626.80,423.08 L627.30,423.22 L627.80,423.36 L628.30,423.50 L628.80,423.64 L629.30,423.78 L629.80,423.91 L630.30,424.05 L630.80,424.19 L631.30,424.33 L631.80,424.47 L632.30,424.61 L632.80,424.75 L633.30,424.89 L633.80,425.03 L634.30,425.17 L634.80,425.31 L635.30,425.45 L635.80,425.58 L636.30,425.72 L636.80,425.86 L637.30,426.00 L637.80,426.14 L638.30,426.28 L638.80,426.42 L639.30,426.56 L639.80,426.70 L640.30,426.84 L640.80,426.98 L641.30,427.12 L641.80,427.25 L642.30,427.39 L642.80,427.53 L643.30,427.67" fill="none" stroke="#ea5a4f" stroke-width="1.2" stroke-linejoin="round"/>
<line x1="495.70" y1="327.40" x2="495.70" y2="351.40" stroke="#6aa6c8" stroke-width="1.0" />
<line x1="490.20" y1="339.40" x2="501.20" y2="339.40" stroke="#6aa6c8" stroke-width="1.0" />
<line x1="494.60" y1="327.40" x2="496.80" y2="327.40" stroke="#6aa6c8" stroke-width="1.0" />
<line x1="494.60" y1="351.40" x2="496.80" y2="351.40" stroke="#6aa6c8" stroke-width="1.0" />
<circle cx="495.70" cy="339.40" r="3.9" fill="url(#gBl)"/>
<line x1="507.40" y1="361.50" x2="507.40" y2="382.50" stroke="#6aa6c8" stroke-width="1.0" />
<line x1="502.40" y1="372.00" x2="512.40" y2="372.00" stroke="#6aa6c8" stroke-width="1.0" />
<line x1="506.30" y1="361.50" x2="508.50" y2="361.50" stroke="#6aa6c8" stroke-width="1.0" />
<line x1="506.30" y1="382.50" x2="508.50" y2="382.50" stroke="#6aa6c8" stroke-width="1.0" />
<circle cx="507.40" cy="372.00" r="3.9" fill="url(#gBl)"/>
<line x1="514.10" y1="394.20" x2="514.10" y2="397.40" stroke="#6aa6c8" stroke-width="1.0" />
<line x1="508.60" y1="395.80" x2="519.60" y2="395.80" stroke="#6aa6c8" stroke-width="1.0" />
<circle cx="514.10" cy="395.80" r="3.9" fill="url(#gBl)"/>
<line x1="541.40" y1="394.40" x2="541.40" y2="405.00" stroke="#6aa6c8" stroke-width="1.0" />
<line x1="535.90" y1="399.70" x2="546.90" y2="399.70" stroke="#6aa6c8" stroke-width="1.0" />
<line x1="540.30" y1="394.40" x2="542.50" y2="394.40" stroke="#6aa6c8" stroke-width="1.0" />
<line x1="540.30" y1="405.00" x2="542.50" y2="405.00" stroke="#6aa6c8" stroke-width="1.0" />
<circle cx="541.40" cy="399.70" r="3.9" fill="url(#gBl)"/>
<line x1="565.50" y1="410.20" x2="565.50" y2="413.20" stroke="#6aa6c8" stroke-width="1.0" />
<line x1="560.50" y1="411.70" x2="570.50" y2="411.70" stroke="#6aa6c8" stroke-width="1.0" />
<circle cx="565.50" cy="411.70" r="3.9" fill="url(#gBl)"/>
<line x1="597.00" y1="421.10" x2="597.00" y2="423.90" stroke="#6aa6c8" stroke-width="1.0" />
<line x1="592.00" y1="422.50" x2="602.00" y2="422.50" stroke="#6aa6c8" stroke-width="1.0" />
<circle cx="597.00" cy="422.50" r="3.9" fill="url(#gBl)"/>
<line x1="624.30" y1="426.00" x2="624.30" y2="428.80" stroke="#6aa6c8" stroke-width="1.0" />
<line x1="619.30" y1="427.40" x2="629.30" y2="427.40" stroke="#6aa6c8" stroke-width="1.0" />
<circle cx="624.30" cy="427.40" r="3.9" fill="url(#gBl)"/>
<line x1="469.70" y1="317.60" x2="643.40" y2="317.60" stroke="#222" stroke-width="1.2" />
<line x1="470.30" y1="317.60" x2="470.30" y2="432.50" stroke="#222" stroke-width="1.4" />
<line x1="643.40" y1="317.60" x2="643.40" y2="433.20" stroke="#6a9fc2" stroke-width="1.3" />
<line x1="469.70" y1="432.50" x2="643.40" y2="432.50" stroke="#333" stroke-width="1.6" />
<line x1="467.80" y1="432.50" x2="470.30" y2="432.50" stroke="#222" stroke-width="1" />
<text transform="translate(467.30,435.40) scale(0.87,1)" font-size="8.6" text-anchor="end" fill="#333" stroke="#333">0.0</text>
<line x1="467.80" y1="417.18" x2="470.30" y2="417.18" stroke="#222" stroke-width="1" />
<text transform="translate(467.30,420.08) scale(0.87,1)" font-size="8.6" text-anchor="end" fill="#333" stroke="#333">0.2</text>
<line x1="467.80" y1="401.86" x2="470.30" y2="401.86" stroke="#222" stroke-width="1" />
<text transform="translate(467.30,404.76) scale(0.87,1)" font-size="8.6" text-anchor="end" fill="#333" stroke="#333">0.4</text>
<line x1="467.80" y1="386.54" x2="470.30" y2="386.54" stroke="#222" stroke-width="1" />
<text transform="translate(467.30,389.44) scale(0.87,1)" font-size="8.6" text-anchor="end" fill="#333" stroke="#333">0.6</text>
<line x1="467.80" y1="371.22" x2="470.30" y2="371.22" stroke="#222" stroke-width="1" />
<text transform="translate(467.30,374.12) scale(0.87,1)" font-size="8.6" text-anchor="end" fill="#333" stroke="#333">0.8</text>
<line x1="467.80" y1="355.90" x2="470.30" y2="355.90" stroke="#222" stroke-width="1" />
<text transform="translate(467.30,358.80) scale(0.87,1)" font-size="8.6" text-anchor="end" fill="#333" stroke="#333">1.0</text>
<line x1="467.80" y1="340.58" x2="470.30" y2="340.58" stroke="#222" stroke-width="1" />
<text transform="translate(467.30,343.48) scale(0.87,1)" font-size="8.6" text-anchor="end" fill="#333" stroke="#333">1.2</text>
<line x1="467.80" y1="325.26" x2="470.30" y2="325.26" stroke="#222" stroke-width="1" />
<text transform="translate(467.30,328.16) scale(0.87,1)" font-size="8.6" text-anchor="end" fill="#333" stroke="#333">1.4</text>
<line x1="469.00" y1="424.84" x2="470.30" y2="424.84" stroke="#222" stroke-width="0.9" />
<line x1="469.00" y1="409.52" x2="470.30" y2="409.52" stroke="#222" stroke-width="0.9" />
<line x1="469.00" y1="394.20" x2="470.30" y2="394.20" stroke="#222" stroke-width="0.9" />
<line x1="469.00" y1="378.88" x2="470.30" y2="378.88" stroke="#222" stroke-width="0.9" />
<line x1="469.00" y1="363.56" x2="470.30" y2="363.56" stroke="#222" stroke-width="0.9" />
<line x1="469.00" y1="348.24" x2="470.30" y2="348.24" stroke="#222" stroke-width="0.9" />
<line x1="469.00" y1="332.92" x2="470.30" y2="332.92" stroke="#222" stroke-width="0.9" />
<line x1="481.84" y1="432.50" x2="481.84" y2="434.70" stroke="#222" stroke-width="1" />
<text transform="translate(481.84,442.50) scale(0.87,1)" font-size="8.6" text-anchor="middle" fill="#333" stroke="#333">350</text>
<line x1="504.92" y1="432.50" x2="504.92" y2="434.70" stroke="#222" stroke-width="1" />
<text transform="translate(504.92,442.50) scale(0.87,1)" font-size="8.6" text-anchor="middle" fill="#333" stroke="#333">400</text>
<line x1="528.00" y1="432.50" x2="528.00" y2="434.70" stroke="#222" stroke-width="1" />
<text transform="translate(528.00,442.50) scale(0.87,1)" font-size="8.6" text-anchor="middle" fill="#333" stroke="#333">450</text>
<line x1="551.08" y1="432.50" x2="551.08" y2="434.70" stroke="#222" stroke-width="1" />
<text transform="translate(551.08,442.50) scale(0.87,1)" font-size="8.6" text-anchor="middle" fill="#333" stroke="#333">500</text>
<line x1="574.16" y1="432.50" x2="574.16" y2="434.70" stroke="#222" stroke-width="1" />
<text transform="translate(574.16,442.50) scale(0.87,1)" font-size="8.6" text-anchor="middle" fill="#333" stroke="#333">550</text>
<line x1="597.24" y1="432.50" x2="597.24" y2="434.70" stroke="#222" stroke-width="1" />
<text transform="translate(597.24,442.50) scale(0.87,1)" font-size="8.6" text-anchor="middle" fill="#333" stroke="#333">600</text>
<line x1="620.32" y1="432.50" x2="620.32" y2="434.70" stroke="#222" stroke-width="1" />
<text transform="translate(620.32,442.50) scale(0.87,1)" font-size="8.6" text-anchor="middle" fill="#333" stroke="#333">650</text>
<line x1="643.40" y1="432.50" x2="643.40" y2="434.70" stroke="#222" stroke-width="1" />
<text transform="translate(643.40,442.50) scale(0.87,1)" font-size="8.6" text-anchor="middle" fill="#333" stroke="#333">700</text>
<line x1="470.30" y1="432.50" x2="470.30" y2="433.80" stroke="#222" stroke-width="0.9" />
<line x1="493.38" y1="432.50" x2="493.38" y2="433.80" stroke="#222" stroke-width="0.9" />
<line x1="516.46" y1="432.50" x2="516.46" y2="433.80" stroke="#222" stroke-width="0.9" />
<line x1="539.54" y1="432.50" x2="539.54" y2="433.80" stroke="#222" stroke-width="0.9" />
<line x1="562.62" y1="432.50" x2="562.62" y2="433.80" stroke="#222" stroke-width="0.9" />
<line x1="585.70" y1="432.50" x2="585.70" y2="433.80" stroke="#222" stroke-width="0.9" />
<line x1="608.78" y1="432.50" x2="608.78" y2="433.80" stroke="#222" stroke-width="0.9" />
<line x1="631.86" y1="432.50" x2="631.86" y2="433.80" stroke="#222" stroke-width="0.9" />
<line x1="643.40" y1="432.20" x2="645.90" y2="432.20" stroke="#6a9fc2" stroke-width="1" />
<text transform="translate(647.20,434.90) scale(0.87,1)" font-size="8.6" text-anchor="start" fill="#6a9fc2" stroke="#6a9fc2">0.0</text>
<line x1="643.40" y1="383.80" x2="645.90" y2="383.80" stroke="#6a9fc2" stroke-width="1" />
<text transform="translate(647.20,386.50) scale(0.87,1)" font-size="8.6" text-anchor="start" fill="#6a9fc2" stroke="#6a9fc2">0.4</text>
<line x1="643.40" y1="333.30" x2="645.90" y2="333.30" stroke="#6a9fc2" stroke-width="1" />
<text transform="translate(647.20,336.00) scale(0.87,1)" font-size="8.6" text-anchor="start" fill="#6a9fc2" stroke="#6a9fc2">1.6</text>
<line x1="643.40" y1="408.20" x2="644.70" y2="408.20" stroke="#6a9fc2" stroke-width="0.9" />
<line x1="643.40" y1="349.40" x2="644.70" y2="349.40" stroke="#6a9fc2" stroke-width="0.9" />
<rect x="641" y="355.3" width="5" height="4.6" fill="#fff"/>
<path d="M640.8,359.6 Q642.2,355.6 643.4,357.6 Q644.6,359.6 646,355.6" fill="none" stroke="#6a9fc2" stroke-width="0.9"/>
<text x="556.80" y="452.30" font-size="9.7" text-anchor="middle" fill="#111" stroke="#111" >Wavelength (nm)</text>
<text transform="translate(452.00,425.50) rotate(-90)" font-size="9.8" fill="#111" stroke="#111" text-anchor="start">Normalized Absorption</text>
<text x="641.30" y="330.00" font-size="9.7" text-anchor="end" fill="#ec6a62" stroke="#ec6a62" >Ag@Ir-cages</text>
<text transform="translate(678.20,316.50) rotate(90)" font-size="9.6" fill="#6a9fc2" stroke="#6a9fc2" text-anchor="start">Normalized Photocatalytic Rate</text>
<text transform="translate(664.40,319.30) rotate(90)" font-size="9.6" fill="#6a9fc2" stroke="#6a9fc2" text-anchor="start">(×10<tspan dy="-3.6" font-size="6.2">-2</tspan><tspan dy="3.6">, molecules per photon)</tspan></text>
<text x="444.00" y="320.80" font-size="16.8" text-anchor="start" fill="#111" stroke="#111" >h</text>
<path d="M485.3,357.8 L485.3,353.6 L476.5,353.6" fill="none" stroke="#ea5a4f" stroke-width="0.9"/>
<path d="M473.2,353.6 L477.4,351.9 L476.8,353.6 L477.4,355.3 Z" fill="#ea5a4f"/>
<path d="M625.2,424.2 L625.2,418.4 L635.2,418.4" fill="none" stroke="#6a9fc2" stroke-width="0.9"/>
<path d="M638.6,418.4 L634.4,416.7 L635.0,418.4 L634.4,420.1 Z" fill="#6a9fc2"/>
</svg></body></html>
